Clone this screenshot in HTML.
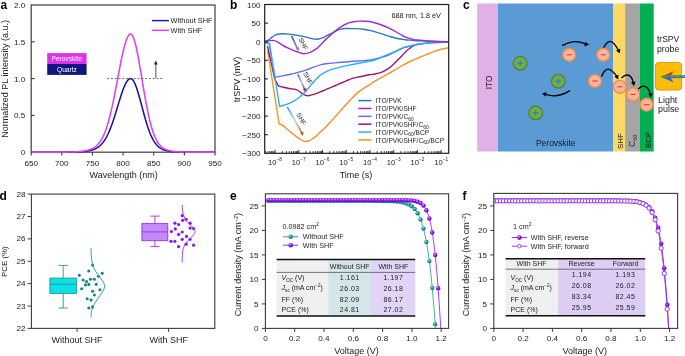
<!DOCTYPE html>
<html><head><meta charset="utf-8"><style>
html,body{margin:0;padding:0;background:#fff;}
svg{display:block;font-family:"Liberation Sans", sans-serif;will-change:transform;}
</style></head><body>
<svg width="685" height="356" viewBox="0 0 685 356">
<rect width="685" height="356" fill="#fff"/>
<rect x="31.2" y="5" width="183.8" height="147.2" fill="none" stroke="#4a4a4a" stroke-width="1.3"/>
<path d="M31.2 152.2 L31.81 152.2 L32.43 152.2 L33.04 152.2 L33.65 152.2 L34.26 152.2 L34.88 152.2 L35.49 152.2 L36.1 152.2 L36.71 152.2 L37.33 152.2 L37.94 152.2 L38.55 152.2 L39.16 152.2 L39.78 152.2 L40.39 152.2 L41 152.2 L41.62 152.2 L42.23 152.2 L42.84 152.2 L43.45 152.2 L44.07 152.2 L44.68 152.2 L45.29 152.2 L45.9 152.2 L46.52 152.2 L47.13 152.2 L47.74 152.2 L48.35 152.2 L48.97 152.2 L49.58 152.2 L50.19 152.2 L50.81 152.2 L51.42 152.2 L52.03 152.2 L52.64 152.2 L53.26 152.2 L53.87 152.19 L54.48 152.19 L55.09 152.19 L55.71 152.19 L56.32 152.19 L56.93 152.19 L57.54 152.19 L58.16 152.19 L58.77 152.19 L59.38 152.18 L60 152.18 L60.61 152.18 L61.22 152.18 L61.83 152.18 L62.45 152.17 L63.06 152.17 L63.67 152.17 L64.28 152.16 L64.9 152.16 L65.51 152.16 L66.12 152.15 L66.73 152.14 L67.35 152.14 L67.96 152.13 L68.57 152.13 L69.19 152.12 L69.8 152.11 L70.41 152.1 L71.02 152.09 L71.64 152.08 L72.25 152.07 L72.86 152.05 L73.47 152.04 L74.09 152.02 L74.7 152.01 L75.31 151.99 L75.92 151.97 L76.54 151.95 L77.15 151.92 L77.76 151.9 L78.38 151.87 L78.99 151.84 L79.6 151.81 L80.21 151.77 L80.83 151.73 L81.44 151.69 L82.05 151.65 L82.66 151.6 L83.28 151.55 L83.89 151.49 L84.5 151.43 L85.11 151.36 L85.73 151.29 L86.34 151.21 L86.95 151.12 L87.57 151.03 L88.18 150.92 L88.79 150.81 L89.4 150.69 L90.02 150.56 L90.63 150.42 L91.24 150.26 L91.85 150.09 L92.47 149.9 L93.08 149.7 L93.69 149.48 L94.3 149.24 L94.92 148.98 L95.53 148.69 L96.14 148.38 L96.76 148.04 L97.37 147.67 L97.98 147.27 L98.59 146.84 L99.21 146.36 L99.82 145.85 L100.43 145.3 L101.04 144.71 L101.66 144.06 L102.27 143.37 L102.88 142.63 L103.49 141.83 L104.11 140.97 L104.72 140.05 L105.33 139.08 L105.95 138.04 L106.56 136.93 L107.17 135.76 L107.78 134.53 L108.4 133.22 L109.01 131.85 L109.62 130.41 L110.23 128.9 L110.85 127.33 L111.46 125.69 L112.07 123.99 L112.68 122.24 L113.3 120.42 L113.91 118.56 L114.52 116.66 L115.14 114.72 L115.75 112.74 L116.36 110.74 L116.97 108.72 L117.59 106.69 L118.2 104.65 L118.81 102.63 L119.42 100.63 L120.04 98.65 L120.65 96.71 L121.26 94.81 L121.87 92.98 L122.49 91.21 L123.1 89.53 L123.71 87.93 L124.33 86.43 L124.94 85.04 L125.55 83.77 L126.16 82.62 L126.78 81.6 L127.39 80.73 L128 79.99 L128.61 79.41 L129.23 78.99 L129.84 78.71 L130.45 78.6 L131.06 78.67 L131.68 78.93 L132.29 79.41 L132.9 80.08 L133.52 80.95 L134.13 82 L134.74 83.23 L135.35 84.63 L135.97 86.18 L136.58 87.87 L137.19 89.7 L137.8 91.63 L138.42 93.67 L139.03 95.79 L139.64 97.98 L140.25 100.23 L140.87 102.51 L141.48 104.81 L142.09 107.13 L142.71 109.44 L143.32 111.73 L143.93 114 L144.54 116.23 L145.16 118.41 L145.77 120.53 L146.38 122.58 L146.99 124.57 L147.61 126.47 L148.22 128.3 L148.83 130.04 L149.44 131.7 L150.06 133.27 L150.67 134.75 L151.28 136.14 L151.9 137.45 L152.51 138.67 L153.12 139.81 L153.73 140.86 L154.35 141.85 L154.96 142.75 L155.57 143.59 L156.18 144.36 L156.8 145.06 L157.41 145.71 L158.02 146.3 L158.63 146.85 L159.25 147.34 L159.86 147.79 L160.47 148.2 L161.09 148.57 L161.7 148.9 L162.31 149.21 L162.92 149.49 L163.54 149.74 L164.15 149.97 L164.76 150.17 L165.37 150.36 L165.99 150.53 L166.6 150.68 L167.21 150.82 L167.82 150.95 L168.44 151.06 L169.05 151.17 L169.66 151.26 L170.28 151.35 L170.89 151.42 L171.5 151.49 L172.11 151.56 L172.73 151.62 L173.34 151.67 L173.95 151.72 L174.56 151.77 L175.18 151.81 L175.79 151.84 L176.4 151.88 L177.01 151.91 L177.63 151.94 L178.24 151.96 L178.85 151.99 L179.47 152.01 L180.08 152.03 L180.69 152.04 L181.3 152.06 L181.92 152.07 L182.53 152.09 L183.14 152.1 L183.75 152.11 L184.37 152.12 L184.98 152.13 L185.59 152.14 L186.2 152.14 L186.82 152.15 L187.43 152.15 L188.04 152.16 L188.66 152.16 L189.27 152.17 L189.88 152.17 L190.49 152.18 L191.11 152.18 L191.72 152.18 L192.33 152.18 L192.94 152.19 L193.56 152.19 L194.17 152.19 L194.78 152.19 L195.39 152.19 L196.01 152.19 L196.62 152.19 L197.23 152.19 L197.85 152.19 L198.46 152.2 L199.07 152.2 L199.68 152.2 L200.3 152.2 L200.91 152.2 L201.52 152.2 L202.13 152.2 L202.75 152.2 L203.36 152.2 L203.97 152.2 L204.58 152.2 L205.2 152.2 L205.81 152.2 L206.42 152.2 L207.04 152.2 L207.65 152.2 L208.26 152.2 L208.87 152.2 L209.49 152.2 L210.1 152.2 L210.71 152.2 L211.32 152.2 L211.94 152.2 L212.55 152.2 L213.16 152.2 L213.77 152.2 L214.39 152.2 L215 152.2" fill="none" stroke="#16168f" stroke-width="1.55"/>
<path d="M31.2 152.2 L31.81 152.2 L32.43 152.2 L33.04 152.2 L33.65 152.2 L34.26 152.2 L34.88 152.2 L35.49 152.2 L36.1 152.2 L36.71 152.2 L37.33 152.2 L37.94 152.2 L38.55 152.2 L39.16 152.2 L39.78 152.2 L40.39 152.2 L41 152.2 L41.62 152.2 L42.23 152.2 L42.84 152.2 L43.45 152.2 L44.07 152.2 L44.68 152.2 L45.29 152.2 L45.9 152.2 L46.52 152.2 L47.13 152.2 L47.74 152.2 L48.35 152.2 L48.97 152.2 L49.58 152.2 L50.19 152.2 L50.81 152.2 L51.42 152.19 L52.03 152.19 L52.64 152.19 L53.26 152.19 L53.87 152.19 L54.48 152.19 L55.09 152.19 L55.71 152.19 L56.32 152.19 L56.93 152.18 L57.54 152.18 L58.16 152.18 L58.77 152.18 L59.38 152.18 L60 152.17 L60.61 152.17 L61.22 152.17 L61.83 152.16 L62.45 152.16 L63.06 152.15 L63.67 152.15 L64.28 152.14 L64.9 152.14 L65.51 152.13 L66.12 152.12 L66.73 152.11 L67.35 152.1 L67.96 152.09 L68.57 152.08 L69.19 152.07 L69.8 152.05 L70.41 152.04 L71.02 152.02 L71.64 152.01 L72.25 151.99 L72.86 151.96 L73.47 151.94 L74.09 151.92 L74.7 151.89 L75.31 151.86 L75.92 151.83 L76.54 151.79 L77.15 151.76 L77.76 151.71 L78.38 151.67 L78.99 151.62 L79.6 151.57 L80.21 151.51 L80.83 151.45 L81.44 151.39 L82.05 151.31 L82.66 151.24 L83.28 151.15 L83.89 151.06 L84.5 150.96 L85.11 150.85 L85.73 150.73 L86.34 150.61 L86.95 150.47 L87.57 150.32 L88.18 150.15 L88.79 149.97 L89.4 149.78 L90.02 149.57 L90.63 149.34 L91.24 149.09 L91.85 148.81 L92.47 148.51 L93.08 148.19 L93.69 147.83 L94.3 147.45 L94.92 147.03 L95.53 146.57 L96.14 146.07 L96.76 145.52 L97.37 144.93 L97.98 144.29 L98.59 143.59 L99.21 142.83 L99.82 142.02 L100.43 141.13 L101.04 140.17 L101.66 139.14 L102.27 138.03 L102.88 136.83 L103.49 135.55 L104.11 134.18 L104.72 132.71 L105.33 131.14 L105.95 129.47 L106.56 127.7 L107.17 125.82 L107.78 123.83 L108.4 121.74 L109.01 119.53 L109.62 117.22 L110.23 114.8 L110.85 112.28 L111.46 109.65 L112.07 106.92 L112.68 104.11 L113.3 101.2 L113.91 98.22 L114.52 95.16 L115.14 92.04 L115.75 88.87 L116.36 85.65 L116.97 82.41 L117.59 79.15 L118.2 75.89 L118.81 72.64 L119.42 69.42 L120.04 66.25 L120.65 63.13 L121.26 60.09 L121.87 57.15 L122.49 54.32 L123.1 51.61 L123.71 49.05 L124.33 46.64 L124.94 44.41 L125.55 42.36 L126.16 40.52 L126.78 38.89 L127.39 37.48 L128 36.31 L128.61 35.38 L129.23 34.69 L129.84 34.26 L130.45 34.08 L131.06 34.18 L131.68 34.61 L132.29 35.37 L132.9 36.45 L133.52 37.84 L134.13 39.53 L134.74 41.5 L135.35 43.74 L135.97 46.24 L136.58 48.96 L137.19 51.88 L137.8 54.99 L138.42 58.26 L139.03 61.67 L139.64 65.18 L140.25 68.78 L140.87 72.44 L141.48 76.15 L142.09 79.86 L142.71 83.57 L143.32 87.25 L143.93 90.89 L144.54 94.46 L145.16 97.96 L145.77 101.36 L146.38 104.66 L146.99 107.85 L147.61 110.91 L148.22 113.84 L148.83 116.64 L149.44 119.3 L150.06 121.81 L150.67 124.19 L151.28 126.43 L151.9 128.52 L152.51 130.48 L153.12 132.31 L153.73 134.01 L154.35 135.58 L154.96 137.04 L155.57 138.38 L156.18 139.61 L156.8 140.75 L157.41 141.79 L158.02 142.74 L158.63 143.61 L159.25 144.4 L159.86 145.12 L160.47 145.77 L161.09 146.37 L161.7 146.91 L162.31 147.4 L162.92 147.85 L163.54 148.25 L164.15 148.61 L164.76 148.95 L165.37 149.25 L165.99 149.52 L166.6 149.76 L167.21 149.99 L167.82 150.19 L168.44 150.37 L169.05 150.54 L169.66 150.69 L170.28 150.83 L170.89 150.95 L171.5 151.07 L172.11 151.17 L172.73 151.27 L173.34 151.35 L173.95 151.43 L174.56 151.5 L175.18 151.57 L175.79 151.63 L176.4 151.68 L177.01 151.73 L177.63 151.78 L178.24 151.82 L178.85 151.86 L179.47 151.89 L180.08 151.92 L180.69 151.95 L181.3 151.97 L181.92 152 L182.53 152.02 L183.14 152.04 L183.75 152.05 L184.37 152.07 L184.98 152.08 L185.59 152.1 L186.2 152.11 L186.82 152.12 L187.43 152.13 L188.04 152.14 L188.66 152.14 L189.27 152.15 L189.88 152.15 L190.49 152.16 L191.11 152.16 L191.72 152.17 L192.33 152.17 L192.94 152.18 L193.56 152.18 L194.17 152.18 L194.78 152.18 L195.39 152.19 L196.01 152.19 L196.62 152.19 L197.23 152.19 L197.85 152.19 L198.46 152.19 L199.07 152.19 L199.68 152.19 L200.3 152.2 L200.91 152.2 L201.52 152.2 L202.13 152.2 L202.75 152.2 L203.36 152.2 L203.97 152.2 L204.58 152.2 L205.2 152.2 L205.81 152.2 L206.42 152.2 L207.04 152.2 L207.65 152.2 L208.26 152.2 L208.87 152.2 L209.49 152.2 L210.1 152.2 L210.71 152.2 L211.32 152.2 L211.94 152.2 L212.55 152.2 L213.16 152.2 L213.77 152.2 L214.39 152.2 L215 152.2" fill="none" stroke="#e23ef2" stroke-width="1.55"/>
<line x1="31.2" y1="152.2" x2="31.2" y2="155.6" stroke="#3a3a3a" stroke-width="1.1" />
<text x="31.2" y="165.6" font-size="8.1" text-anchor="middle" font-weight="normal" fill="#222" >650</text>
<line x1="61.83" y1="152.2" x2="61.83" y2="155.6" stroke="#3a3a3a" stroke-width="1.1" />
<text x="61.83" y="165.6" font-size="8.1" text-anchor="middle" font-weight="normal" fill="#222" >700</text>
<line x1="92.47" y1="152.2" x2="92.47" y2="155.6" stroke="#3a3a3a" stroke-width="1.1" />
<text x="92.47" y="165.6" font-size="8.1" text-anchor="middle" font-weight="normal" fill="#222" >750</text>
<line x1="123.1" y1="152.2" x2="123.1" y2="155.6" stroke="#3a3a3a" stroke-width="1.1" />
<text x="123.1" y="165.6" font-size="8.1" text-anchor="middle" font-weight="normal" fill="#222" >800</text>
<line x1="153.73" y1="152.2" x2="153.73" y2="155.6" stroke="#3a3a3a" stroke-width="1.1" />
<text x="153.73" y="165.6" font-size="8.1" text-anchor="middle" font-weight="normal" fill="#222" >850</text>
<line x1="184.37" y1="152.2" x2="184.37" y2="155.6" stroke="#3a3a3a" stroke-width="1.1" />
<text x="184.37" y="165.6" font-size="8.1" text-anchor="middle" font-weight="normal" fill="#222" >900</text>
<line x1="215" y1="152.2" x2="215" y2="155.6" stroke="#3a3a3a" stroke-width="1.1" />
<text x="215" y="165.6" font-size="8.1" text-anchor="middle" font-weight="normal" fill="#222" >950</text>
<text x="25.3" y="155.2" font-size="8.1" text-anchor="end" font-weight="normal" fill="#222" >0</text>
<line x1="31.2" y1="115.4" x2="34.6" y2="115.4" stroke="#3a3a3a" stroke-width="1.1" />
<text x="25.3" y="118.4" font-size="8.1" text-anchor="end" font-weight="normal" fill="#222" >0.5</text>
<line x1="31.2" y1="78.6" x2="34.6" y2="78.6" stroke="#3a3a3a" stroke-width="1.1" />
<text x="25.3" y="81.6" font-size="8.1" text-anchor="end" font-weight="normal" fill="#222" >1.0</text>
<line x1="31.2" y1="41.8" x2="34.6" y2="41.8" stroke="#3a3a3a" stroke-width="1.1" />
<text x="25.3" y="44.8" font-size="8.1" text-anchor="end" font-weight="normal" fill="#222" >1.5</text>
<text x="25.3" y="8" font-size="8.1" text-anchor="end" font-weight="normal" fill="#222" >2.0</text>
<text x="123.6" y="178.3" font-size="9.0" text-anchor="middle" font-weight="normal" fill="#222" >Wavelength (nm)</text>
<text x="0" y="0" font-size="9.0" text-anchor="middle" font-weight="normal" fill="#222" transform="translate(7.9 78.9) rotate(-90)">Normalized PL intensity (a.u.)</text>
<line x1="151.9" y1="20.6" x2="168.9" y2="20.6" stroke="#1c1c98" stroke-width="1.5" />
<text x="170.5" y="23.4" font-size="7.45" text-anchor="start" font-weight="normal" fill="#222" >Without SHF</text>
<line x1="151.9" y1="30.3" x2="168.9" y2="30.3" stroke="#e23ef2" stroke-width="1.5" />
<text x="170.5" y="33.2" font-size="7.45" text-anchor="start" font-weight="normal" fill="#222" >With SHF</text>
<rect x="47.2" y="53.1" width="39.4" height="10.9" fill="#dd33ee"/>
<rect x="47.2" y="64" width="39.4" height="10.9" fill="#141480"/>
<text x="66.9" y="61.3" font-size="6.6" text-anchor="middle" font-weight="normal" fill="#fff" >Perovskite</text>
<text x="66.9" y="72.2" font-size="6.6" text-anchor="middle" font-weight="normal" fill="#fff" >Quartz</text>
<line x1="107" y1="78.6" x2="163" y2="78.6" stroke="#555" stroke-width="0.8" stroke-dasharray="2.2 1.6"/>
<line x1="155.8" y1="78.2" x2="155.8" y2="64" stroke="#8a8a8a" stroke-width="1.5" />
<path d="M154 64.6 L155.8 60.6 L157.6 64.6 Z" fill="#222"/>
<text x="0.4" y="8.5" font-size="12" text-anchor="start" font-weight="bold" fill="#000" >a</text>
<defs><clipPath id="cb"><rect x="264.7" y="4.5" width="184.0" height="148.8"/></clipPath>
<linearGradient id="g1" x1="0" y1="0" x2="1" y2="1"><stop offset="0" stop-color="#2f5e9e"/><stop offset="1" stop-color="#9b7ae8"/></linearGradient>
<linearGradient id="g2" x1="0" y1="0" x2="0" y2="1"><stop offset="0" stop-color="#3a63c0"/><stop offset="0.55" stop-color="#b9c3e8"/><stop offset="1" stop-color="#c0283a"/></linearGradient>
<linearGradient id="g3" x1="0" y1="0" x2="0" y2="1"><stop offset="0" stop-color="#2aaaf0"/><stop offset="0.55" stop-color="#c4d4e4"/><stop offset="1" stop-color="#b8632a"/></linearGradient>
</defs>
<g clip-path="url(#cb)">
<path d="M267.7 51.2 C269.6 63.32 277.2 111.78 279.1 123.9 C279.63 124.1 280.85 124.12 282.3 125.1 C283.75 126.08 286.23 128.5 287.8 129.8 C289.37 131.1 290.38 131.85 291.7 132.9 C293.02 133.95 294.38 135.12 295.7 136.1 C297.02 137.08 298.3 137.97 299.6 138.8 C300.9 139.63 302.43 140.67 303.5 141.1 C304.57 141.53 305.08 141.45 306 141.4 C306.92 141.35 307.83 141.3 309 140.8 C310.17 140.3 311.83 139.18 313 138.4 C314.17 137.62 314.83 137.12 316 136.1 C317.17 135.08 318.48 133.7 320 132.3 C321.52 130.9 323.4 129.38 325.1 127.7 C326.8 126.02 328.52 124.05 330.2 122.2 C331.88 120.35 333.52 118.45 335.2 116.6 C336.88 114.75 338.78 112.78 340.3 111.1 C341.82 109.42 342.67 108.32 344.3 106.5 C345.93 104.68 348 102.38 350.1 100.2 C352.2 98.02 354.65 95.37 356.9 93.4 C359.15 91.43 361.47 89.85 363.6 88.4 C365.73 86.95 367.8 85.92 369.7 84.7 C371.6 83.48 372.62 82.53 375 81.1 C377.38 79.67 381 77.77 384 76.1 C387 74.43 390 72.83 393 71.1 C396 69.37 399.17 67.3 402 65.7 C404.83 64.1 407.35 62.78 410 61.5 C412.65 60.22 415.28 59.12 417.9 58 C420.52 56.88 423.08 55.85 425.7 54.8 C428.32 53.75 430.98 52.62 433.6 51.7 C436.22 50.78 438.88 49.95 441.4 49.3 C443.92 48.65 447.48 48.05 448.7 47.8" fill="none" stroke="#f59324" stroke-width="1.4" stroke-linejoin="round"/>
<path d="M267.4 46.1 C268.17 49.42 270.77 60.55 272 66 C273.23 71.45 273.68 75.45 274.8 78.8 C275.92 82.15 278.05 84.88 278.7 86.1 C279.45 86.28 281.5 86.8 283.2 87.2 C284.9 87.6 287.02 88.17 288.9 88.5 C290.78 88.83 293.1 88.95 294.5 89.2 C295.9 89.45 296.37 89.53 297.3 90 C298.23 90.47 299.23 91.35 300.1 92 C300.97 92.65 301.67 93.37 302.5 93.9 C303.33 94.43 304.25 94.9 305.1 95.2 C305.95 95.5 306.77 95.67 307.6 95.7 C308.43 95.73 308.83 95.7 310.1 95.4 C311.37 95.1 313.52 94.48 315.2 93.9 C316.88 93.32 318.52 92.58 320.2 91.9 C321.88 91.22 323.67 90.48 325.3 89.8 C326.93 89.12 328.28 88.52 330 87.8 C331.72 87.08 333.73 86.3 335.6 85.5 C337.47 84.7 339.32 83.82 341.2 83 C343.08 82.18 345.02 81.37 346.9 80.6 C348.78 79.83 350.63 78.98 352.5 78.4 C354.37 77.82 356.23 77.5 358.1 77.1 C359.97 76.7 361.83 76.38 363.7 76 C365.57 75.62 367.42 75.13 369.3 74.8 C371.18 74.47 373.3 74.32 375 74 C376.7 73.68 378 73.38 379.5 72.9 C381 72.42 382.5 71.85 384 71.1 C385.5 70.35 387 69.45 388.5 68.4 C390 67.35 391.5 66.15 393 64.8 C394.5 63.45 396 61.8 397.5 60.3 C399 58.8 400.5 57.37 402 55.8 C403.5 54.23 405.17 52.17 406.5 50.9 C407.83 49.63 408.83 49.05 410 48.2 C411.17 47.35 412.17 46.43 413.5 45.8 C414.83 45.17 415.97 44.82 418 44.4 C420.03 43.98 423.1 43.62 425.7 43.3 C428.3 42.98 429.77 42.73 433.6 42.5 C437.43 42.27 446.18 42 448.7 41.9" fill="none" stroke="#9e146e" stroke-width="1.4" stroke-linejoin="round"/>
<path d="M264.6 42.5 C265.33 42.65 268.27 43.25 269 43.4 C269.98 49.03 273.92 71.57 274.9 77.2 C276.2 76.98 280.1 76.38 282.7 75.9 C285.3 75.42 287.92 74.9 290.5 74.3 C293.08 73.7 295.63 73 298.2 72.3 C300.77 71.6 303.33 70.97 305.9 70.1 C308.47 69.23 311.02 68.02 313.6 67.1 C316.18 66.18 318.82 65.22 321.4 64.6 C323.98 63.98 326.53 63.73 329.1 63.4 C331.67 63.07 334.22 62.83 336.8 62.6 C339.38 62.37 341.98 62.22 344.6 62 C347.22 61.78 349.32 61.53 352.5 61.3 C355.68 61.07 360.45 60.88 363.7 60.6 C366.95 60.32 368.62 60.27 372 59.6 C375.38 58.93 380.5 57.72 384 56.6 C387.5 55.48 390.6 53.97 393 52.9 C395.4 51.83 396.57 51.08 398.4 50.2 C400.23 49.32 402.07 48.27 404 47.6 C405.93 46.93 407.68 46.75 410 46.2 C412.32 45.65 415.28 44.77 417.9 44.3 C420.52 43.83 423.08 43.68 425.7 43.4 C428.32 43.12 429.77 42.85 433.6 42.6 C437.43 42.35 446.18 42.02 448.7 41.9" fill="none" stroke="#6270f0" stroke-width="1.4" stroke-linejoin="round"/>
<path d="M264.6 42.7 C265.4 42.77 268.6 43.03 269.4 43.1 C271.1 53.65 277.9 95.85 279.6 106.4 C280.9 106.02 284.82 105.12 287.4 104.1 C289.98 103.08 293 101.53 295.1 100.3 C297.2 99.07 298.33 98.07 300 96.7 C301.67 95.33 303.42 93.88 305.1 92.1 C306.78 90.32 308.67 87.68 310.1 86 C311.53 84.32 312.38 83.45 313.7 82 C315.02 80.55 316.72 78.58 318 77.3 C319.28 76.02 319.55 75.47 321.4 74.3 C323.25 73.13 326.53 71.33 329.1 70.3 C331.67 69.27 334.22 68.8 336.8 68.1 C339.38 67.4 341.98 66.7 344.6 66.1 C347.22 65.5 349.32 65.15 352.5 64.5 C355.68 63.85 359.97 62.95 363.7 62.2 C367.43 61.45 371.52 61.02 374.9 60 C378.28 58.98 380.98 57.35 384 56.1 C387.02 54.85 390.6 53.55 393 52.5 C395.4 51.45 396.57 50.67 398.4 49.8 C400.23 48.93 402.07 47.93 404 47.3 C405.93 46.67 407.68 46.53 410 46 C412.32 45.47 415.28 44.57 417.9 44.1 C420.52 43.63 423.08 43.48 425.7 43.2 C428.32 42.92 429.77 42.62 433.6 42.4 C437.43 42.18 446.18 41.98 448.7 41.9" fill="none" stroke="#2cb1f0" stroke-width="1.4" stroke-linejoin="round"/>
<path d="M264.6 41.7 C265.28 41.38 267.45 40.57 268.7 39.8 C269.95 39.03 270.97 37.93 272.1 37.1 C273.23 36.27 274.37 35.3 275.5 34.8 C276.63 34.3 277.78 34.27 278.9 34.1 C280.02 33.93 280.52 33.8 282.2 33.8 C283.88 33.8 286.75 33.88 289 34.1 C291.25 34.32 293.53 34.77 295.7 35.1 C297.87 35.43 299.95 35.68 302 36.1 C304.05 36.52 306.17 37.13 308 37.6 C309.83 38.07 311.5 38.63 313 38.9 C314.5 39.17 315.83 39.23 317 39.2 C318.17 39.17 318.8 39.05 320 38.7 C321.2 38.35 322.8 37.73 324.2 37.1 C325.6 36.47 327 35.62 328.4 34.9 C329.8 34.18 331.2 33.53 332.6 32.8 C334 32.07 335.4 31.12 336.8 30.5 C338.2 29.88 339.58 29.43 341 29.1 C342.42 28.77 343.18 28.58 345.3 28.5 C347.42 28.42 350.68 28.48 353.7 28.6 C356.72 28.72 360.37 28.82 363.4 29.2 C366.43 29.58 369.08 30.2 371.9 30.9 C374.72 31.6 377.5 32.53 380.3 33.4 C383.1 34.27 385.88 35.25 388.7 36.1 C391.52 36.95 394.48 37.9 397.2 38.5 C399.92 39.1 402.53 39.4 405 39.7 C407.47 40 409.5 40.1 412 40.3 C414.5 40.5 416.4 40.7 420 40.9 C423.6 41.1 428.82 41.33 433.6 41.5 C438.38 41.67 446.18 41.83 448.7 41.9" fill="none" stroke="#2a78b4" stroke-width="1.4" stroke-linejoin="round"/>
<path d="M264.6 41.7 C265.28 41.53 267 40.88 268.7 40.7 C270.4 40.52 272.92 40.12 274.8 40.6 C276.68 41.08 278.13 42.52 280 43.6 C281.87 44.68 283.97 46.05 286 47.1 C288.03 48.15 290.13 49.05 292.2 49.9 C294.27 50.75 296.65 51.58 298.4 52.2 C300.15 52.82 301.37 53.4 302.7 53.6 C304.03 53.8 305.07 53.65 306.4 53.4 C307.73 53.15 308.95 52.93 310.7 52.1 C312.45 51.27 315.27 49.58 316.9 48.4 C318.53 47.22 319.28 46.25 320.5 45 C321.72 43.75 322.88 42.22 324.2 40.9 C325.52 39.58 327 38.37 328.4 37.1 C329.8 35.83 331.2 34.5 332.6 33.3 C334 32.1 335.4 30.97 336.8 29.9 C338.2 28.83 339.58 27.82 341 26.9 C342.42 25.98 343.88 25.1 345.3 24.4 C346.72 23.7 348.1 23.15 349.5 22.7 C350.9 22.25 351.95 21.97 353.7 21.7 C355.45 21.43 358.38 21.18 360 21.1 C361.62 21.02 361.42 21.05 363.4 21.2 C365.38 21.35 369.08 21.45 371.9 22 C374.72 22.55 377.5 23.52 380.3 24.5 C383.1 25.48 385.88 26.57 388.7 27.9 C391.52 29.23 394.98 31.27 397.2 32.5 C399.42 33.73 400.7 34.58 402 35.3 C403.3 36.02 403.85 36.32 405 36.8 C406.15 37.28 407.4 37.73 408.9 38.2 C410.4 38.67 412.15 39.27 414 39.6 C415.85 39.93 416.73 39.92 420 40.2 C423.27 40.48 428.82 41.02 433.6 41.3 C438.38 41.58 446.18 41.8 448.7 41.9" fill="none" stroke="#a526d6" stroke-width="1.4" stroke-linejoin="round"/>
</g>
<rect x="264.7" y="4.5" width="184" height="148.8" fill="none" stroke="#1e1e1e" stroke-width="1.2"/>
<line x1="265.65" y1="153.3" x2="265.65" y2="151.1" stroke="#222" stroke-width="0.9" />
<line x1="267.95" y1="153.3" x2="267.95" y2="151.1" stroke="#222" stroke-width="0.9" />
<line x1="269.83" y1="153.3" x2="269.83" y2="151.1" stroke="#222" stroke-width="0.9" />
<line x1="271.41" y1="153.3" x2="271.41" y2="151.1" stroke="#222" stroke-width="0.9" />
<line x1="272.79" y1="153.3" x2="272.79" y2="151.1" stroke="#222" stroke-width="0.9" />
<line x1="274" y1="153.3" x2="274" y2="151.1" stroke="#222" stroke-width="0.9" />
<line x1="275.09" y1="153.3" x2="275.09" y2="149.9" stroke="#222" stroke-width="0.9" />
<line x1="282.23" y1="153.3" x2="282.23" y2="151.1" stroke="#222" stroke-width="0.9" />
<line x1="286.41" y1="153.3" x2="286.41" y2="151.1" stroke="#222" stroke-width="0.9" />
<line x1="289.38" y1="153.3" x2="289.38" y2="151.1" stroke="#222" stroke-width="0.9" />
<line x1="291.68" y1="153.3" x2="291.68" y2="151.1" stroke="#222" stroke-width="0.9" />
<line x1="293.56" y1="153.3" x2="293.56" y2="151.1" stroke="#222" stroke-width="0.9" />
<line x1="295.14" y1="153.3" x2="295.14" y2="151.1" stroke="#222" stroke-width="0.9" />
<line x1="296.52" y1="153.3" x2="296.52" y2="151.1" stroke="#222" stroke-width="0.9" />
<line x1="297.73" y1="153.3" x2="297.73" y2="151.1" stroke="#222" stroke-width="0.9" />
<line x1="298.82" y1="153.3" x2="298.82" y2="149.9" stroke="#222" stroke-width="0.9" />
<line x1="305.96" y1="153.3" x2="305.96" y2="151.1" stroke="#222" stroke-width="0.9" />
<line x1="310.14" y1="153.3" x2="310.14" y2="151.1" stroke="#222" stroke-width="0.9" />
<line x1="313.11" y1="153.3" x2="313.11" y2="151.1" stroke="#222" stroke-width="0.9" />
<line x1="315.41" y1="153.3" x2="315.41" y2="151.1" stroke="#222" stroke-width="0.9" />
<line x1="317.29" y1="153.3" x2="317.29" y2="151.1" stroke="#222" stroke-width="0.9" />
<line x1="318.87" y1="153.3" x2="318.87" y2="151.1" stroke="#222" stroke-width="0.9" />
<line x1="320.25" y1="153.3" x2="320.25" y2="151.1" stroke="#222" stroke-width="0.9" />
<line x1="321.46" y1="153.3" x2="321.46" y2="151.1" stroke="#222" stroke-width="0.9" />
<line x1="322.55" y1="153.3" x2="322.55" y2="149.9" stroke="#222" stroke-width="0.9" />
<line x1="329.69" y1="153.3" x2="329.69" y2="151.1" stroke="#222" stroke-width="0.9" />
<line x1="333.87" y1="153.3" x2="333.87" y2="151.1" stroke="#222" stroke-width="0.9" />
<line x1="336.84" y1="153.3" x2="336.84" y2="151.1" stroke="#222" stroke-width="0.9" />
<line x1="339.14" y1="153.3" x2="339.14" y2="151.1" stroke="#222" stroke-width="0.9" />
<line x1="341.02" y1="153.3" x2="341.02" y2="151.1" stroke="#222" stroke-width="0.9" />
<line x1="342.6" y1="153.3" x2="342.6" y2="151.1" stroke="#222" stroke-width="0.9" />
<line x1="343.98" y1="153.3" x2="343.98" y2="151.1" stroke="#222" stroke-width="0.9" />
<line x1="345.19" y1="153.3" x2="345.19" y2="151.1" stroke="#222" stroke-width="0.9" />
<line x1="346.28" y1="153.3" x2="346.28" y2="149.9" stroke="#222" stroke-width="0.9" />
<line x1="353.42" y1="153.3" x2="353.42" y2="151.1" stroke="#222" stroke-width="0.9" />
<line x1="357.6" y1="153.3" x2="357.6" y2="151.1" stroke="#222" stroke-width="0.9" />
<line x1="360.57" y1="153.3" x2="360.57" y2="151.1" stroke="#222" stroke-width="0.9" />
<line x1="362.87" y1="153.3" x2="362.87" y2="151.1" stroke="#222" stroke-width="0.9" />
<line x1="364.75" y1="153.3" x2="364.75" y2="151.1" stroke="#222" stroke-width="0.9" />
<line x1="366.33" y1="153.3" x2="366.33" y2="151.1" stroke="#222" stroke-width="0.9" />
<line x1="367.71" y1="153.3" x2="367.71" y2="151.1" stroke="#222" stroke-width="0.9" />
<line x1="368.92" y1="153.3" x2="368.92" y2="151.1" stroke="#222" stroke-width="0.9" />
<line x1="370.01" y1="153.3" x2="370.01" y2="149.9" stroke="#222" stroke-width="0.9" />
<line x1="377.15" y1="153.3" x2="377.15" y2="151.1" stroke="#222" stroke-width="0.9" />
<line x1="381.33" y1="153.3" x2="381.33" y2="151.1" stroke="#222" stroke-width="0.9" />
<line x1="384.3" y1="153.3" x2="384.3" y2="151.1" stroke="#222" stroke-width="0.9" />
<line x1="386.6" y1="153.3" x2="386.6" y2="151.1" stroke="#222" stroke-width="0.9" />
<line x1="388.48" y1="153.3" x2="388.48" y2="151.1" stroke="#222" stroke-width="0.9" />
<line x1="390.06" y1="153.3" x2="390.06" y2="151.1" stroke="#222" stroke-width="0.9" />
<line x1="391.44" y1="153.3" x2="391.44" y2="151.1" stroke="#222" stroke-width="0.9" />
<line x1="392.65" y1="153.3" x2="392.65" y2="151.1" stroke="#222" stroke-width="0.9" />
<line x1="393.74" y1="153.3" x2="393.74" y2="149.9" stroke="#222" stroke-width="0.9" />
<line x1="400.88" y1="153.3" x2="400.88" y2="151.1" stroke="#222" stroke-width="0.9" />
<line x1="405.06" y1="153.3" x2="405.06" y2="151.1" stroke="#222" stroke-width="0.9" />
<line x1="408.03" y1="153.3" x2="408.03" y2="151.1" stroke="#222" stroke-width="0.9" />
<line x1="410.33" y1="153.3" x2="410.33" y2="151.1" stroke="#222" stroke-width="0.9" />
<line x1="412.21" y1="153.3" x2="412.21" y2="151.1" stroke="#222" stroke-width="0.9" />
<line x1="413.79" y1="153.3" x2="413.79" y2="151.1" stroke="#222" stroke-width="0.9" />
<line x1="415.17" y1="153.3" x2="415.17" y2="151.1" stroke="#222" stroke-width="0.9" />
<line x1="416.38" y1="153.3" x2="416.38" y2="151.1" stroke="#222" stroke-width="0.9" />
<line x1="417.47" y1="153.3" x2="417.47" y2="149.9" stroke="#222" stroke-width="0.9" />
<line x1="424.61" y1="153.3" x2="424.61" y2="151.1" stroke="#222" stroke-width="0.9" />
<line x1="428.79" y1="153.3" x2="428.79" y2="151.1" stroke="#222" stroke-width="0.9" />
<line x1="431.76" y1="153.3" x2="431.76" y2="151.1" stroke="#222" stroke-width="0.9" />
<line x1="434.06" y1="153.3" x2="434.06" y2="151.1" stroke="#222" stroke-width="0.9" />
<line x1="435.94" y1="153.3" x2="435.94" y2="151.1" stroke="#222" stroke-width="0.9" />
<line x1="437.52" y1="153.3" x2="437.52" y2="151.1" stroke="#222" stroke-width="0.9" />
<line x1="438.9" y1="153.3" x2="438.9" y2="151.1" stroke="#222" stroke-width="0.9" />
<line x1="440.11" y1="153.3" x2="440.11" y2="151.1" stroke="#222" stroke-width="0.9" />
<line x1="441.2" y1="153.3" x2="441.2" y2="149.9" stroke="#222" stroke-width="0.9" />
<text x="275.09" y="164.6" font-size="7.6" text-anchor="middle" fill="#222">10<tspan dy="-3.8" font-size="4.8">&#8722;8</tspan></text>
<text x="298.82" y="164.6" font-size="7.6" text-anchor="middle" fill="#222">10<tspan dy="-3.8" font-size="4.8">&#8722;7</tspan></text>
<text x="322.55" y="164.6" font-size="7.6" text-anchor="middle" fill="#222">10<tspan dy="-3.8" font-size="4.8">&#8722;6</tspan></text>
<text x="346.28" y="164.6" font-size="7.6" text-anchor="middle" fill="#222">10<tspan dy="-3.8" font-size="4.8">&#8722;5</tspan></text>
<text x="370.01" y="164.6" font-size="7.6" text-anchor="middle" fill="#222">10<tspan dy="-3.8" font-size="4.8">&#8722;4</tspan></text>
<text x="393.74" y="164.6" font-size="7.6" text-anchor="middle" fill="#222">10<tspan dy="-3.8" font-size="4.8">&#8722;3</tspan></text>
<text x="417.47" y="164.6" font-size="7.6" text-anchor="middle" fill="#222">10<tspan dy="-3.8" font-size="4.8">&#8722;2</tspan></text>
<text x="441.2" y="164.6" font-size="7.6" text-anchor="middle" fill="#222">10<tspan dy="-3.8" font-size="4.8">&#8722;1</tspan></text>
<text x="260.6" y="7.5" font-size="8.1" text-anchor="end" font-weight="normal" fill="#222" >100</text>
<line x1="264.7" y1="23.1" x2="267.9" y2="23.1" stroke="#1e1e1e" stroke-width="1.1" />
<text x="260.6" y="26.1" font-size="8.1" text-anchor="end" font-weight="normal" fill="#222" >50</text>
<line x1="264.7" y1="41.7" x2="267.9" y2="41.7" stroke="#1e1e1e" stroke-width="1.1" />
<text x="260.6" y="44.7" font-size="8.1" text-anchor="end" font-weight="normal" fill="#222" >0</text>
<line x1="264.7" y1="60.3" x2="267.9" y2="60.3" stroke="#1e1e1e" stroke-width="1.1" />
<text x="260.6" y="63.3" font-size="8.1" text-anchor="end" font-weight="normal" fill="#222" >&#8722;50</text>
<line x1="264.7" y1="78.9" x2="267.9" y2="78.9" stroke="#1e1e1e" stroke-width="1.1" />
<text x="260.6" y="81.9" font-size="8.1" text-anchor="end" font-weight="normal" fill="#222" >&#8722;100</text>
<line x1="264.7" y1="97.5" x2="267.9" y2="97.5" stroke="#1e1e1e" stroke-width="1.1" />
<text x="260.6" y="100.5" font-size="8.1" text-anchor="end" font-weight="normal" fill="#222" >&#8722;150</text>
<line x1="264.7" y1="116.1" x2="267.9" y2="116.1" stroke="#1e1e1e" stroke-width="1.1" />
<text x="260.6" y="119.1" font-size="8.1" text-anchor="end" font-weight="normal" fill="#222" >&#8722;200</text>
<line x1="264.7" y1="134.7" x2="267.9" y2="134.7" stroke="#1e1e1e" stroke-width="1.1" />
<text x="260.6" y="137.7" font-size="8.1" text-anchor="end" font-weight="normal" fill="#222" >&#8722;250</text>
<text x="260.6" y="156.3" font-size="8.1" text-anchor="end" font-weight="normal" fill="#222" >&#8722;300</text>
<text x="356" y="177.6" font-size="9.0" text-anchor="middle" font-weight="normal" fill="#222" >Time (s)</text>
<text x="0" y="0" font-size="9.0" text-anchor="middle" font-weight="normal" fill="#222" transform="translate(239.6 79.5) rotate(-90)">trSPV (mV)</text>
<text x="441" y="18.2" font-size="7.3" text-anchor="end" font-weight="normal" fill="#222" >688 nm, 1.8 eV</text>
<line x1="358.3" y1="100.6" x2="371.4" y2="100.6" stroke="#2a78b4" stroke-width="1.5" />
<text x="375.7" y="103.2" font-size="6.6" text-anchor="start" font-weight="normal" fill="#222" >ITO/PVK</text>
<line x1="358.3" y1="108.46" x2="371.4" y2="108.46" stroke="#a526d6" stroke-width="1.5" />
<text x="375.7" y="111.06" font-size="6.6" text-anchor="start" font-weight="normal" fill="#222" >ITO/PVK/SHF</text>
<line x1="358.3" y1="116.32" x2="371.4" y2="116.32" stroke="#6270f0" stroke-width="1.5" />
<text x="375.7" y="118.92" font-size="6.6" text-anchor="start" font-weight="normal" fill="#222" >ITO/PVK/C<tspan font-size="5" dy="1.8">60</tspan></text>
<line x1="358.3" y1="124.18" x2="371.4" y2="124.18" stroke="#9e146e" stroke-width="1.5" />
<text x="375.7" y="126.78" font-size="6.6" text-anchor="start" font-weight="normal" fill="#222" >ITO/PVK/SHF/C<tspan font-size="5" dy="1.8">60</tspan></text>
<line x1="358.3" y1="132.04" x2="371.4" y2="132.04" stroke="#2cb1f0" stroke-width="1.5" />
<text x="375.7" y="134.64" font-size="6.6" text-anchor="start" font-weight="normal" fill="#222" >ITO/PVK/C<tspan font-size="5" dy="1.8">60</tspan><tspan dy="-1.8">/BCP</tspan></text>
<line x1="358.3" y1="139.9" x2="371.4" y2="139.9" stroke="#f59324" stroke-width="1.5" />
<text x="375.7" y="142.5" font-size="6.6" text-anchor="start" font-weight="normal" fill="#222" >ITO/PVK/SHF/C<tspan font-size="5" dy="1.8">60</tspan><tspan dy="-1.8">/BCP</tspan></text>
<path d="M291.6 36 L297.6 49.2" stroke="url(#g1)" stroke-width="1.6" fill="none"/>
<path d="M295.8 48.2 L298.6 51.2 L299.3 47" fill="#8a72e0"/>
<path d="M297.9 74.3 L304.8 89.5" stroke="url(#g2)" stroke-width="1.6" fill="none"/>
<path d="M302.8 89.2 L305.6 92.3 L306.5 88" fill="#c0283a"/>
<path d="M287.3 107 L302 133.2" stroke="url(#g3)" stroke-width="1.6" fill="none"/>
<path d="M300 133 L302.8 136 L303.8 131.7" fill="#b8632a"/>
<text x="0" y="0" font-size="6.5" text-anchor="middle" font-weight="normal" fill="#222" transform="translate(301.2 44.8) rotate(64)">SHF</text>
<text x="0" y="0" font-size="6.5" text-anchor="middle" font-weight="normal" fill="#222" transform="translate(305.9 79) rotate(64)">SHF</text>
<text x="0" y="0" font-size="6.5" text-anchor="middle" font-weight="normal" fill="#222" transform="translate(299.3 120) rotate(60)">SHF</text>
<text x="229.9" y="8.9" font-size="12" text-anchor="start" font-weight="bold" fill="#000" >b</text>
<rect x="477.2" y="3.5" width="20.8" height="148" fill="#e0b0e6"/>
<rect x="498" y="3.5" width="115" height="148" fill="#5b9bd5"/>
<rect x="613" y="3.5" width="12.1" height="148" fill="#ffd966"/>
<rect x="625.1" y="3.5" width="14.9" height="148" fill="#a5a5a5"/>
<rect x="640" y="3.5" width="13.7" height="148" fill="#00b050"/>
<text x="462.9" y="8.9" font-size="12" text-anchor="start" font-weight="bold" fill="#000" >c</text>
<text x="0" y="0" font-size="8.4" text-anchor="middle" font-weight="normal" fill="#1a1a1a" transform="translate(492.3 82.3) rotate(-90)">ITO</text>
<text x="575.6" y="146" font-size="8.5" text-anchor="end" font-weight="normal" fill="#141a28" >Perovskite</text>
<text x="0" y="0" font-size="8.0" text-anchor="middle" font-weight="normal" fill="#1a1a1a" transform="translate(622.5 141) rotate(-90)">SHF</text>
<text transform="translate(635.2 140.7) rotate(-90)" font-size="8.2" text-anchor="middle" fill="#222">C<tspan font-size="5.8" dy="2.0">60</tspan></text>
<text x="0" y="0" font-size="7.9" text-anchor="middle" font-weight="normal" fill="#111" transform="translate(651 140) rotate(-90)">BCP</text>
<text x="657" y="42" font-size="8.5" text-anchor="start" font-weight="normal" fill="#222" >trSPV</text>
<text x="657" y="51.5" font-size="8.7" text-anchor="start" font-weight="normal" fill="#222" >probe</text>
<text x="658.1" y="103.1" font-size="8.9" text-anchor="start" font-weight="normal" fill="#222" >Light</text>
<text x="658.1" y="112.2" font-size="8.9" text-anchor="start" font-weight="normal" fill="#222" >pulse</text>
<rect x="655.5" y="62.5" width="26.2" height="27.6" rx="3.2" fill="#fbbd08" stroke="#c89400" stroke-width="0.8"/>
<path d="M660.6 76.7 L673.6 71.3 L670 76.7 Z" fill="#e3262a"/>
<path d="M660.6 76.7 L673.6 82.4 L670 76.7 Z" fill="#2f5fd6"/>
<path d="M663 76 L685 76" stroke="#2f9a5a" stroke-width="1.6"/>
<path d="M663 77.5 L685 77.5" stroke="#2f70c8" stroke-width="1.2"/>
<path d="M660.6 76.7 L667 75 L667 78.4 Z" fill="#2f9a5a"/>
<defs><radialGradient id="eg" cx="0.5" cy="0.5" r="0.5"><stop offset="0" stop-color="#fbc3aa"/><stop offset="0.7" stop-color="#f8b295"/><stop offset="1" stop-color="#f5a585"/></radialGradient></defs>
<circle cx="520.2" cy="63.2" r="6.85" fill="#70ad47" stroke="#4f7f30" stroke-width="1.2"/>
<path d="M517.4000000000001 63.2 h5.6 M520.2 60.400000000000006 v5.6" stroke="#1f7fcf" stroke-width="1.1"/>
<circle cx="558.3" cy="81.3" r="6.85" fill="#70ad47" stroke="#4f7f30" stroke-width="1.2"/>
<path d="M555.5 81.3 h5.6 M558.3 78.5 v5.6" stroke="#1f7fcf" stroke-width="1.1"/>
<circle cx="535.7" cy="112.9" r="6.85" fill="#70ad47" stroke="#4f7f30" stroke-width="1.2"/>
<path d="M532.9000000000001 112.9 h5.6 M535.7 110.10000000000001 v5.6" stroke="#1f7fcf" stroke-width="1.1"/>
<circle cx="569.2" cy="54.8" r="6.6" fill="url(#eg)" stroke="#f08a3e" stroke-width="1.1"/>
<path d="M566.6 54.8 h5.2" stroke="#ff2626" stroke-width="1.1"/>
<circle cx="603.3" cy="54.8" r="6.6" fill="url(#eg)" stroke="#f08a3e" stroke-width="1.1"/>
<path d="M600.6999999999999 54.8 h5.2" stroke="#ff2626" stroke-width="1.1"/>
<circle cx="594.9" cy="81" r="6.6" fill="url(#eg)" stroke="#f08a3e" stroke-width="1.1"/>
<path d="M592.3 81 h5.2" stroke="#ff2626" stroke-width="1.1"/>
<circle cx="619.7" cy="86.8" r="6.6" fill="url(#eg)" stroke="#f08a3e" stroke-width="1.1"/>
<path d="M617.1 86.8 h5.2" stroke="#ff2626" stroke-width="1.1"/>
<circle cx="633.1" cy="94.4" r="6.6" fill="url(#eg)" stroke="#f08a3e" stroke-width="1.1"/>
<path d="M630.5 94.4 h5.2" stroke="#ff2626" stroke-width="1.1"/>
<circle cx="646.6" cy="104.7" r="6.6" fill="url(#eg)" stroke="#f08a3e" stroke-width="1.1"/>
<path d="M644.0 104.7 h5.2" stroke="#ff2626" stroke-width="1.1"/>
<path d="M562.3 45.7 Q575 38.3 586 44.2" fill="none" stroke="#000" stroke-width="1.35"/>
<path d="M589 44.8 L584.32 46.16 L585.27 41.66 Z" fill="#000"/>
<path d="M603.6 47.6 Q609 37.6 614 43.6 Q616.8 47.2 618.4 50" fill="none" stroke="#000" stroke-width="1.35"/>
<path d="M619.8 53.6 L616.06 50.47 L620.32 48.75 Z" fill="#000"/>
<path d="M601.5 76.7 Q606 65.5 612 71 Q615.5 74 617 76.5" fill="none" stroke="#000" stroke-width="1.35"/>
<path d="M618.2 79.6 L614.3 76.67 L618.47 74.73 Z" fill="#000"/>
<path d="M621.5 78 Q627 72.5 631 77 Q632.6 79 633.3 83" fill="none" stroke="#000" stroke-width="1.35"/>
<path d="M634 86.2 L630.99 82.36 L635.52 81.57 Z" fill="#000"/>
<path d="M638.2 89 Q644 83.6 647.8 88.4 Q649.8 91.4 650.4 94.2" fill="none" stroke="#000" stroke-width="1.35"/>
<path d="M650.9 97.8 L648.16 93.76 L652.74 93.28 Z" fill="#000"/>
<path d="M570 90.6 Q557 98.6 545.8 94.4" fill="none" stroke="#000" stroke-width="1.35"/>
<path d="M541.8 93.6 L546.43 92.08 L545.64 96.61 Z" fill="#000"/>
<rect x="31.4" y="194.1" width="183.4" height="134.3" fill="none" stroke="#3a3a3a" stroke-width="1.1"/>
<line x1="27.6" y1="328.4" x2="31.4" y2="328.4" stroke="#3a3a3a" stroke-width="1" />
<text x="25.5" y="330.9" font-size="8.1" text-anchor="end" font-weight="normal" fill="#222" >22</text>
<line x1="27.6" y1="306.02" x2="31.4" y2="306.02" stroke="#3a3a3a" stroke-width="1" />
<text x="25.5" y="308.52" font-size="8.1" text-anchor="end" font-weight="normal" fill="#222" >23</text>
<line x1="27.6" y1="283.63" x2="31.4" y2="283.63" stroke="#3a3a3a" stroke-width="1" />
<text x="25.5" y="286.13" font-size="8.1" text-anchor="end" font-weight="normal" fill="#222" >24</text>
<line x1="27.6" y1="261.25" x2="31.4" y2="261.25" stroke="#3a3a3a" stroke-width="1" />
<text x="25.5" y="263.75" font-size="8.1" text-anchor="end" font-weight="normal" fill="#222" >25</text>
<line x1="27.6" y1="238.87" x2="31.4" y2="238.87" stroke="#3a3a3a" stroke-width="1" />
<text x="25.5" y="241.37" font-size="8.1" text-anchor="end" font-weight="normal" fill="#222" >26</text>
<line x1="27.6" y1="216.48" x2="31.4" y2="216.48" stroke="#3a3a3a" stroke-width="1" />
<text x="25.5" y="218.98" font-size="8.1" text-anchor="end" font-weight="normal" fill="#222" >27</text>
<line x1="27.6" y1="194.1" x2="31.4" y2="194.1" stroke="#3a3a3a" stroke-width="1" />
<text x="25.5" y="196.6" font-size="8.1" text-anchor="end" font-weight="normal" fill="#222" >28</text>
<line x1="77.1" y1="328.4" x2="77.1" y2="331.8" stroke="#3a3a3a" stroke-width="1" />
<line x1="168.6" y1="328.4" x2="168.6" y2="331.8" stroke="#3a3a3a" stroke-width="1" />
<text x="77.1" y="342.8" font-size="9.0" text-anchor="middle" font-weight="normal" fill="#222" >Without SHF</text>
<text x="168.8" y="342.8" font-size="9.0" text-anchor="middle" font-weight="normal" fill="#222" >With SHF</text>
<text x="0" y="0" font-size="7.9" text-anchor="middle" font-weight="normal" fill="#222" transform="translate(7.3 261.6) rotate(-90)">PCE (%)</text>
<text x="-0.6" y="199.6" font-size="12" text-anchor="start" font-weight="bold" fill="#000" >d</text>
<line x1="63.2" y1="265.4" x2="63.2" y2="308" stroke="#1a9aa0" stroke-width="0.9"/>
<line x1="58.5" y1="265.4" x2="67.9" y2="265.4" stroke="#1a9aa0" stroke-width="0.9"/>
<line x1="58.5" y1="308" x2="67.9" y2="308" stroke="#1a9aa0" stroke-width="0.9"/>
<rect x="49.9" y="278.1" width="26.5" height="15.3" fill="#0fe0e6" stroke="#1a9aa0" stroke-width="0.9"/>
<line x1="49.9" y1="284.2" x2="76.4" y2="284.2" stroke="#1a9aa0" stroke-width="0.9"/>
<circle cx="79.3" cy="275.2" r="1.55" fill="#0f8489"/>
<circle cx="88.8" cy="271" r="1.55" fill="#0f8489"/>
<circle cx="92.6" cy="265.1" r="1.55" fill="#0f8489"/>
<circle cx="102.2" cy="273.2" r="1.55" fill="#0f8489"/>
<circle cx="83.1" cy="280" r="1.55" fill="#0f8489"/>
<circle cx="86.5" cy="281.5" r="1.55" fill="#0f8489"/>
<circle cx="90.5" cy="279.3" r="1.55" fill="#0f8489"/>
<circle cx="94.4" cy="279.3" r="1.55" fill="#0f8489"/>
<circle cx="98.4" cy="276.3" r="1.55" fill="#0f8489"/>
<circle cx="85.4" cy="284.9" r="1.55" fill="#0f8489"/>
<circle cx="88.8" cy="284.4" r="1.55" fill="#0f8489"/>
<circle cx="96.2" cy="284.2" r="1.55" fill="#0f8489"/>
<circle cx="81.6" cy="288.7" r="1.55" fill="#0f8489"/>
<circle cx="92.6" cy="291.2" r="1.55" fill="#0f8489"/>
<circle cx="100" cy="289.8" r="1.55" fill="#0f8489"/>
<circle cx="94.4" cy="295" r="1.55" fill="#0f8489"/>
<circle cx="87.2" cy="298.8" r="1.55" fill="#0f8489"/>
<circle cx="91" cy="300.1" r="1.55" fill="#0f8489"/>
<circle cx="88.8" cy="308" r="1.55" fill="#0f8489"/>
<circle cx="92.6" cy="306.9" r="1.55" fill="#0f8489"/>
<path d="M91 247.8 C91.05 249.17 91.05 253.3 91.3 256 C91.55 258.7 91.8 261.5 92.5 264 C93.2 266.5 94.25 268.75 95.5 271 C96.75 273.25 98.65 275.58 100 277.5 C101.35 279.42 102.85 281.08 103.6 282.5 C104.35 283.92 104.5 284.75 104.5 286 C104.5 287.25 104.35 288.42 103.6 290 C102.85 291.58 101.35 293.5 100 295.5 C98.65 297.5 96.75 299.92 95.5 302 C94.25 304.08 93.2 306.17 92.5 308 C91.8 309.83 91.55 311.42 91.3 313 C91.05 314.58 91.05 316.75 91 317.5" fill="none" stroke="#1a9aa0" stroke-width="0.9"/>
<line x1="154.9" y1="216.1" x2="154.9" y2="246.6" stroke="#9b2ff0" stroke-width="0.9"/>
<line x1="150.3" y1="216.1" x2="159.6" y2="216.1" stroke="#9b2ff0" stroke-width="0.9"/>
<line x1="150.3" y1="246.6" x2="159.6" y2="246.6" stroke="#9b2ff0" stroke-width="0.9"/>
<rect x="141.9" y="223.6" width="25.9" height="17.1" fill="#c58af5" stroke="#9b2ff0" stroke-width="0.9"/>
<line x1="141.9" y1="231.9" x2="167.8" y2="231.9" stroke="#9b2ff0" stroke-width="0.9"/>
<circle cx="182.2" cy="215.7" r="1.6" fill="#8a18ee"/>
<circle cx="182.6" cy="220.3" r="1.6" fill="#8a18ee"/>
<circle cx="186.1" cy="219.3" r="1.6" fill="#8a18ee"/>
<circle cx="174.9" cy="223.2" r="1.6" fill="#8a18ee"/>
<circle cx="178.6" cy="224.6" r="1.6" fill="#8a18ee"/>
<circle cx="190.1" cy="223.2" r="1.6" fill="#8a18ee"/>
<circle cx="175.3" cy="228.9" r="1.6" fill="#8a18ee"/>
<circle cx="171.4" cy="231.5" r="1.6" fill="#8a18ee"/>
<circle cx="182.2" cy="232" r="1.6" fill="#8a18ee"/>
<circle cx="178.6" cy="234.4" r="1.6" fill="#8a18ee"/>
<circle cx="186.5" cy="236.4" r="1.6" fill="#8a18ee"/>
<circle cx="190.1" cy="228.1" r="1.6" fill="#8a18ee"/>
<circle cx="193.6" cy="228.5" r="1.6" fill="#8a18ee"/>
<circle cx="182.2" cy="239.3" r="1.6" fill="#8a18ee"/>
<circle cx="190.1" cy="239.3" r="1.6" fill="#8a18ee"/>
<circle cx="171" cy="241.3" r="1.6" fill="#8a18ee"/>
<circle cx="174.9" cy="241.3" r="1.6" fill="#8a18ee"/>
<circle cx="178.6" cy="246.6" r="1.6" fill="#8a18ee"/>
<circle cx="186.1" cy="244.2" r="1.6" fill="#8a18ee"/>
<circle cx="193.6" cy="245.2" r="1.6" fill="#8a18ee"/>
<path d="M182.2 204.9 C182.27 205.92 182.27 208.98 182.6 211 C182.93 213.02 183.3 215.08 184.2 217 C185.1 218.92 186.62 220.83 188 222.5 C189.38 224.17 191.33 225.5 192.5 227 C193.67 228.5 195 230 195 231.5 C195 233 193.67 234.5 192.5 236 C191.33 237.5 189.38 238.83 188 240.5 C186.62 242.17 185.1 244.08 184.2 246 C183.3 247.92 182.93 249.25 182.6 252 C182.27 254.75 182.27 260.75 182.2 262.5" fill="none" stroke="#9b2ff0" stroke-width="0.9"/>
<defs><radialGradient id="bt" cx="0.4" cy="0.35" r="0.7"><stop offset="0" stop-color="#8fe0da"/><stop offset="0.45" stop-color="#1a9f98"/><stop offset="1" stop-color="#0a6f6c"/></radialGradient><radialGradient id="bp" cx="0.4" cy="0.35" r="0.7"><stop offset="0" stop-color="#e2b8ff"/><stop offset="0.45" stop-color="#8a10f4"/><stop offset="1" stop-color="#6a00c8"/></radialGradient><clipPath id="ce"><rect x="265.4" y="194" width="183.2" height="134.4"/></clipPath><clipPath id="cf"><rect x="493.8" y="193.4" width="184" height="135"/></clipPath></defs>
<g clip-path="url(#ce)">
<path d="M265.4 200.85 L266.13 200.85 L266.86 200.85 L267.6 200.85 L268.33 200.85 L269.06 200.85 L269.79 200.85 L270.53 200.85 L271.26 200.85 L271.99 200.85 L272.72 200.85 L273.46 200.85 L274.19 200.85 L274.92 200.85 L275.65 200.85 L276.39 200.85 L277.12 200.85 L277.85 200.85 L278.58 200.85 L279.32 200.85 L280.05 200.85 L280.78 200.85 L281.51 200.85 L282.25 200.85 L282.98 200.85 L283.71 200.85 L284.44 200.85 L285.18 200.85 L285.91 200.85 L286.64 200.85 L287.38 200.85 L288.11 200.85 L288.84 200.85 L289.57 200.85 L290.3 200.85 L291.04 200.85 L291.77 200.85 L292.5 200.85 L293.23 200.85 L293.97 200.85 L294.7 200.85 L295.43 200.85 L296.16 200.85 L296.9 200.85 L297.63 200.85 L298.36 200.85 L299.09 200.85 L299.83 200.85 L300.56 200.85 L301.29 200.85 L302.02 200.85 L302.76 200.85 L303.49 200.85 L304.22 200.85 L304.95 200.85 L305.69 200.85 L306.42 200.85 L307.15 200.85 L307.88 200.85 L308.62 200.85 L309.35 200.85 L310.08 200.85 L310.81 200.85 L311.55 200.85 L312.28 200.85 L313.01 200.85 L313.75 200.85 L314.48 200.85 L315.21 200.85 L315.94 200.85 L316.67 200.85 L317.41 200.85 L318.14 200.85 L318.87 200.85 L319.6 200.85 L320.34 200.85 L321.07 200.85 L321.8 200.85 L322.53 200.85 L323.27 200.85 L324 200.85 L324.73 200.85 L325.46 200.85 L326.2 200.85 L326.93 200.85 L327.66 200.85 L328.39 200.85 L329.13 200.85 L329.86 200.85 L330.59 200.85 L331.32 200.85 L332.06 200.85 L332.79 200.85 L333.52 200.85 L334.25 200.85 L334.99 200.85 L335.72 200.85 L336.45 200.85 L337.18 200.85 L337.92 200.85 L338.65 200.85 L339.38 200.85 L340.12 200.85 L340.85 200.85 L341.58 200.85 L342.31 200.85 L343.04 200.85 L343.78 200.85 L344.51 200.85 L345.24 200.85 L345.97 200.85 L346.71 200.85 L347.44 200.85 L348.17 200.85 L348.9 200.85 L349.64 200.85 L350.37 200.85 L351.1 200.85 L351.83 200.85 L352.57 200.85 L353.3 200.85 L354.03 200.85 L354.76 200.85 L355.5 200.85 L356.23 200.85 L356.96 200.86 L357.69 200.86 L358.43 200.86 L359.16 200.86 L359.89 200.86 L360.62 200.86 L361.36 200.86 L362.09 200.86 L362.82 200.86 L363.55 200.86 L364.29 200.86 L365.02 200.86 L365.75 200.86 L366.49 200.86 L367.22 200.86 L367.95 200.86 L368.68 200.86 L369.41 200.87 L370.15 200.87 L370.88 200.87 L371.61 200.87 L372.34 200.87 L373.08 200.87 L373.81 200.88 L374.54 200.88 L375.27 200.88 L376.01 200.89 L376.74 200.89 L377.47 200.89 L378.2 200.9 L378.94 200.9 L379.67 200.91 L380.4 200.91 L381.13 200.92 L381.87 200.93 L382.6 200.94 L383.33 200.95 L384.06 200.96 L384.8 200.97 L385.53 200.98 L386.26 200.99 L387 201.01 L387.73 201.03 L388.46 201.05 L389.19 201.07 L389.92 201.09 L390.66 201.12 L391.39 201.15 L392.12 201.18 L392.85 201.22 L393.59 201.26 L394.32 201.3 L395.05 201.35 L395.78 201.4 L396.52 201.47 L397.25 201.53 L397.98 201.61 L398.71 201.69 L399.45 201.79 L400.18 201.89 L400.91 202 L401.64 202.13 L402.38 202.27 L403.11 202.43 L403.84 202.6 L404.57 202.79 L405.31 203.01 L406.04 203.24 L406.77 203.51 L407.5 203.8 L408.24 204.13 L408.97 204.49 L409.7 204.88 L410.43 205.33 L411.17 205.82 L411.9 206.36 L412.63 206.96 L413.37 207.63 L414.1 208.37 L414.83 209.19 L415.56 210.1 L416.29 211.1 L417.03 212.21 L417.76 213.44 L418.49 214.8 L419.23 216.3 L419.96 217.95 L420.69 219.78 L421.42 221.79 L422.15 224.01 L422.89 226.45 L423.62 229.13 L424.35 232.08 L425.08 235.32 L425.82 238.87 L426.55 242.76 L427.28 247.02 L428.01 251.66 L428.75 256.73 L429.48 262.25 L430.21 268.25 L430.94 274.76 L431.68 281.81 L432.41 289.44 L433.14 297.67 L433.88 306.53 L434.61 316.06 L435.34 326.27 L436.07 337.2 L436.8 348.86 L437.54 361.29 L438.27 374.49 L439 388.48 L439.73 403.28 L440.47 418.89 L441.2 435.33 L441.93 452.6 L442.66 470.7 L443.4 489.63" fill="none" stroke="#17958f" stroke-width="0.8"/>
<circle cx="268.18" cy="200.85" r="2.2" fill="url(#bt)"/>
<circle cx="271.11" cy="200.85" r="2.2" fill="url(#bt)"/>
<circle cx="274.04" cy="200.85" r="2.2" fill="url(#bt)"/>
<circle cx="276.97" cy="200.85" r="2.2" fill="url(#bt)"/>
<circle cx="279.9" cy="200.85" r="2.2" fill="url(#bt)"/>
<circle cx="282.83" cy="200.85" r="2.2" fill="url(#bt)"/>
<circle cx="285.76" cy="200.85" r="2.2" fill="url(#bt)"/>
<circle cx="288.69" cy="200.85" r="2.2" fill="url(#bt)"/>
<circle cx="291.62" cy="200.85" r="2.2" fill="url(#bt)"/>
<circle cx="294.55" cy="200.85" r="2.2" fill="url(#bt)"/>
<circle cx="297.48" cy="200.85" r="2.2" fill="url(#bt)"/>
<circle cx="300.41" cy="200.85" r="2.2" fill="url(#bt)"/>
<circle cx="303.34" cy="200.85" r="2.2" fill="url(#bt)"/>
<circle cx="306.27" cy="200.85" r="2.2" fill="url(#bt)"/>
<circle cx="309.2" cy="200.85" r="2.2" fill="url(#bt)"/>
<circle cx="312.13" cy="200.85" r="2.2" fill="url(#bt)"/>
<circle cx="315.06" cy="200.85" r="2.2" fill="url(#bt)"/>
<circle cx="317.99" cy="200.85" r="2.2" fill="url(#bt)"/>
<circle cx="320.92" cy="200.85" r="2.2" fill="url(#bt)"/>
<circle cx="323.85" cy="200.85" r="2.2" fill="url(#bt)"/>
<circle cx="326.78" cy="200.85" r="2.2" fill="url(#bt)"/>
<circle cx="329.71" cy="200.85" r="2.2" fill="url(#bt)"/>
<circle cx="332.64" cy="200.85" r="2.2" fill="url(#bt)"/>
<circle cx="335.57" cy="200.85" r="2.2" fill="url(#bt)"/>
<circle cx="338.5" cy="200.85" r="2.2" fill="url(#bt)"/>
<circle cx="341.43" cy="200.85" r="2.2" fill="url(#bt)"/>
<circle cx="344.36" cy="200.85" r="2.2" fill="url(#bt)"/>
<circle cx="347.29" cy="200.85" r="2.2" fill="url(#bt)"/>
<circle cx="350.22" cy="200.85" r="2.2" fill="url(#bt)"/>
<circle cx="353.15" cy="200.85" r="2.2" fill="url(#bt)"/>
<circle cx="356.08" cy="200.85" r="2.2" fill="url(#bt)"/>
<circle cx="359.01" cy="200.86" r="2.2" fill="url(#bt)"/>
<circle cx="361.94" cy="200.86" r="2.2" fill="url(#bt)"/>
<circle cx="364.87" cy="200.86" r="2.2" fill="url(#bt)"/>
<circle cx="367.8" cy="200.86" r="2.2" fill="url(#bt)"/>
<circle cx="370.73" cy="200.87" r="2.2" fill="url(#bt)"/>
<circle cx="373.66" cy="200.88" r="2.2" fill="url(#bt)"/>
<circle cx="376.59" cy="200.89" r="2.2" fill="url(#bt)"/>
<circle cx="379.52" cy="200.91" r="2.2" fill="url(#bt)"/>
<circle cx="382.45" cy="200.93" r="2.2" fill="url(#bt)"/>
<circle cx="385.38" cy="200.98" r="2.2" fill="url(#bt)"/>
<circle cx="388.31" cy="201.04" r="2.2" fill="url(#bt)"/>
<circle cx="391.24" cy="201.14" r="2.2" fill="url(#bt)"/>
<circle cx="394.17" cy="201.29" r="2.2" fill="url(#bt)"/>
<circle cx="397.1" cy="201.52" r="2.2" fill="url(#bt)"/>
<circle cx="400.03" cy="201.87" r="2.2" fill="url(#bt)"/>
<circle cx="402.96" cy="202.39" r="2.2" fill="url(#bt)"/>
<circle cx="405.89" cy="203.2" r="2.2" fill="url(#bt)"/>
<circle cx="408.82" cy="204.41" r="2.2" fill="url(#bt)"/>
<circle cx="411.75" cy="206.25" r="2.2" fill="url(#bt)"/>
<circle cx="414.68" cy="209.02" r="2.2" fill="url(#bt)"/>
<circle cx="417.61" cy="213.18" r="2.2" fill="url(#bt)"/>
<circle cx="420.54" cy="219.4" r="2.2" fill="url(#bt)"/>
<circle cx="423.47" cy="228.58" r="2.2" fill="url(#bt)"/>
<circle cx="426.4" cy="241.96" r="2.2" fill="url(#bt)"/>
<circle cx="429.33" cy="261.11" r="2.2" fill="url(#bt)"/>
<circle cx="432.26" cy="287.87" r="2.2" fill="url(#bt)"/>
<circle cx="435.19" cy="324.17" r="2.2" fill="url(#bt)"/>
<circle cx="438.12" cy="371.78" r="2.2" fill="url(#bt)"/>
<circle cx="441.05" cy="431.98" r="2.2" fill="url(#bt)"/>
<path d="M265.4 200.12 L266.13 200.12 L266.86 200.12 L267.6 200.12 L268.33 200.12 L269.06 200.12 L269.79 200.12 L270.53 200.12 L271.26 200.12 L271.99 200.12 L272.72 200.12 L273.46 200.12 L274.19 200.12 L274.92 200.12 L275.65 200.12 L276.39 200.12 L277.12 200.12 L277.85 200.12 L278.58 200.12 L279.32 200.12 L280.05 200.12 L280.78 200.12 L281.51 200.12 L282.25 200.12 L282.98 200.12 L283.71 200.12 L284.44 200.12 L285.18 200.12 L285.91 200.12 L286.64 200.12 L287.38 200.12 L288.11 200.12 L288.84 200.12 L289.57 200.12 L290.3 200.12 L291.04 200.12 L291.77 200.12 L292.5 200.12 L293.23 200.12 L293.97 200.12 L294.7 200.12 L295.43 200.12 L296.16 200.12 L296.9 200.12 L297.63 200.12 L298.36 200.12 L299.09 200.12 L299.83 200.12 L300.56 200.12 L301.29 200.12 L302.02 200.12 L302.76 200.12 L303.49 200.12 L304.22 200.12 L304.95 200.12 L305.69 200.12 L306.42 200.12 L307.15 200.12 L307.88 200.12 L308.62 200.12 L309.35 200.12 L310.08 200.12 L310.81 200.12 L311.55 200.12 L312.28 200.12 L313.01 200.12 L313.75 200.12 L314.48 200.12 L315.21 200.12 L315.94 200.12 L316.67 200.12 L317.41 200.12 L318.14 200.12 L318.87 200.12 L319.6 200.12 L320.34 200.12 L321.07 200.12 L321.8 200.12 L322.53 200.12 L323.27 200.12 L324 200.12 L324.73 200.12 L325.46 200.12 L326.2 200.12 L326.93 200.12 L327.66 200.12 L328.39 200.12 L329.13 200.12 L329.86 200.12 L330.59 200.12 L331.32 200.12 L332.06 200.12 L332.79 200.12 L333.52 200.12 L334.25 200.12 L334.99 200.12 L335.72 200.12 L336.45 200.12 L337.18 200.12 L337.92 200.12 L338.65 200.12 L339.38 200.12 L340.12 200.12 L340.85 200.12 L341.58 200.12 L342.31 200.12 L343.04 200.12 L343.78 200.12 L344.51 200.12 L345.24 200.12 L345.97 200.12 L346.71 200.12 L347.44 200.12 L348.17 200.12 L348.9 200.12 L349.64 200.12 L350.37 200.12 L351.1 200.12 L351.83 200.12 L352.57 200.12 L353.3 200.12 L354.03 200.12 L354.76 200.12 L355.5 200.12 L356.23 200.12 L356.96 200.12 L357.69 200.12 L358.43 200.12 L359.16 200.12 L359.89 200.12 L360.62 200.12 L361.36 200.12 L362.09 200.12 L362.82 200.12 L363.55 200.12 L364.29 200.12 L365.02 200.12 L365.75 200.12 L366.49 200.12 L367.22 200.12 L367.95 200.12 L368.68 200.12 L369.41 200.12 L370.15 200.12 L370.88 200.12 L371.61 200.12 L372.34 200.12 L373.08 200.12 L373.81 200.12 L374.54 200.12 L375.27 200.12 L376.01 200.12 L376.74 200.12 L377.47 200.12 L378.2 200.12 L378.94 200.12 L379.67 200.12 L380.4 200.12 L381.13 200.12 L381.87 200.12 L382.6 200.12 L383.33 200.12 L384.06 200.12 L384.8 200.12 L385.53 200.12 L386.26 200.12 L387 200.12 L387.73 200.12 L388.46 200.12 L389.19 200.12 L389.92 200.12 L390.66 200.12 L391.39 200.12 L392.12 200.12 L392.85 200.13 L393.59 200.13 L394.32 200.13 L395.05 200.13 L395.78 200.13 L396.52 200.13 L397.25 200.14 L397.98 200.14 L398.71 200.14 L399.45 200.15 L400.18 200.15 L400.91 200.16 L401.64 200.17 L402.38 200.18 L403.11 200.19 L403.84 200.2 L404.57 200.21 L405.31 200.23 L406.04 200.25 L406.77 200.27 L407.5 200.29 L408.24 200.32 L408.97 200.36 L409.7 200.4 L410.43 200.45 L411.17 200.5 L411.9 200.57 L412.63 200.65 L413.37 200.74 L414.1 200.85 L414.83 200.97 L415.56 201.12 L416.29 201.29 L417.03 201.49 L417.76 201.73 L418.49 202.01 L419.23 202.33 L419.96 202.7 L420.69 203.14 L421.42 203.66 L422.15 204.26 L422.89 204.95 L423.62 205.77 L424.35 206.71 L425.08 207.81 L425.82 209.08 L426.55 210.55 L427.28 212.25 L428.01 214.21 L428.75 216.46 L429.48 219.04 L430.21 221.98 L430.94 225.34 L431.68 229.14 L432.41 233.44 L433.14 238.27 L433.88 243.68 L434.61 249.71 L435.34 256.39 L436.07 263.75 L436.8 271.83 L437.54 280.64 L438.27 290.2 L439 300.52 L439.73 311.61 L440.47 323.45 L441.2 336.05 L441.93 349.39 L442.66 363.45 L443.4 378.22 L444.13 393.67 L444.86 409.79 L445.59 426.53 L446.33 443.89 L447.06 461.82 L447.79 480.31 L448.52 499.33" fill="none" stroke="#8a10f0" stroke-width="0.8"/>
<circle cx="268.18" cy="200.12" r="2.2" fill="url(#bp)"/>
<circle cx="271.11" cy="200.12" r="2.2" fill="url(#bp)"/>
<circle cx="274.04" cy="200.12" r="2.2" fill="url(#bp)"/>
<circle cx="276.97" cy="200.12" r="2.2" fill="url(#bp)"/>
<circle cx="279.9" cy="200.12" r="2.2" fill="url(#bp)"/>
<circle cx="282.83" cy="200.12" r="2.2" fill="url(#bp)"/>
<circle cx="285.76" cy="200.12" r="2.2" fill="url(#bp)"/>
<circle cx="288.69" cy="200.12" r="2.2" fill="url(#bp)"/>
<circle cx="291.62" cy="200.12" r="2.2" fill="url(#bp)"/>
<circle cx="294.55" cy="200.12" r="2.2" fill="url(#bp)"/>
<circle cx="297.48" cy="200.12" r="2.2" fill="url(#bp)"/>
<circle cx="300.41" cy="200.12" r="2.2" fill="url(#bp)"/>
<circle cx="303.34" cy="200.12" r="2.2" fill="url(#bp)"/>
<circle cx="306.27" cy="200.12" r="2.2" fill="url(#bp)"/>
<circle cx="309.2" cy="200.12" r="2.2" fill="url(#bp)"/>
<circle cx="312.13" cy="200.12" r="2.2" fill="url(#bp)"/>
<circle cx="315.06" cy="200.12" r="2.2" fill="url(#bp)"/>
<circle cx="317.99" cy="200.12" r="2.2" fill="url(#bp)"/>
<circle cx="320.92" cy="200.12" r="2.2" fill="url(#bp)"/>
<circle cx="323.85" cy="200.12" r="2.2" fill="url(#bp)"/>
<circle cx="326.78" cy="200.12" r="2.2" fill="url(#bp)"/>
<circle cx="329.71" cy="200.12" r="2.2" fill="url(#bp)"/>
<circle cx="332.64" cy="200.12" r="2.2" fill="url(#bp)"/>
<circle cx="335.57" cy="200.12" r="2.2" fill="url(#bp)"/>
<circle cx="338.5" cy="200.12" r="2.2" fill="url(#bp)"/>
<circle cx="341.43" cy="200.12" r="2.2" fill="url(#bp)"/>
<circle cx="344.36" cy="200.12" r="2.2" fill="url(#bp)"/>
<circle cx="347.29" cy="200.12" r="2.2" fill="url(#bp)"/>
<circle cx="350.22" cy="200.12" r="2.2" fill="url(#bp)"/>
<circle cx="353.15" cy="200.12" r="2.2" fill="url(#bp)"/>
<circle cx="356.08" cy="200.12" r="2.2" fill="url(#bp)"/>
<circle cx="359.01" cy="200.12" r="2.2" fill="url(#bp)"/>
<circle cx="361.94" cy="200.12" r="2.2" fill="url(#bp)"/>
<circle cx="364.87" cy="200.12" r="2.2" fill="url(#bp)"/>
<circle cx="367.8" cy="200.12" r="2.2" fill="url(#bp)"/>
<circle cx="370.73" cy="200.12" r="2.2" fill="url(#bp)"/>
<circle cx="373.66" cy="200.12" r="2.2" fill="url(#bp)"/>
<circle cx="376.59" cy="200.12" r="2.2" fill="url(#bp)"/>
<circle cx="379.52" cy="200.12" r="2.2" fill="url(#bp)"/>
<circle cx="382.45" cy="200.12" r="2.2" fill="url(#bp)"/>
<circle cx="385.38" cy="200.12" r="2.2" fill="url(#bp)"/>
<circle cx="388.31" cy="200.12" r="2.2" fill="url(#bp)"/>
<circle cx="391.24" cy="200.12" r="2.2" fill="url(#bp)"/>
<circle cx="394.17" cy="200.13" r="2.2" fill="url(#bp)"/>
<circle cx="397.1" cy="200.14" r="2.2" fill="url(#bp)"/>
<circle cx="400.03" cy="200.15" r="2.2" fill="url(#bp)"/>
<circle cx="402.96" cy="200.18" r="2.2" fill="url(#bp)"/>
<circle cx="405.89" cy="200.24" r="2.2" fill="url(#bp)"/>
<circle cx="408.82" cy="200.35" r="2.2" fill="url(#bp)"/>
<circle cx="411.75" cy="200.56" r="2.2" fill="url(#bp)"/>
<circle cx="414.68" cy="200.95" r="2.2" fill="url(#bp)"/>
<circle cx="417.61" cy="201.68" r="2.2" fill="url(#bp)"/>
<circle cx="420.54" cy="203.05" r="2.2" fill="url(#bp)"/>
<circle cx="423.47" cy="205.59" r="2.2" fill="url(#bp)"/>
<circle cx="426.4" cy="210.24" r="2.2" fill="url(#bp)"/>
<circle cx="429.33" cy="218.49" r="2.2" fill="url(#bp)"/>
<circle cx="432.26" cy="232.54" r="2.2" fill="url(#bp)"/>
<circle cx="435.19" cy="255" r="2.2" fill="url(#bp)"/>
<circle cx="438.12" cy="288.23" r="2.2" fill="url(#bp)"/>
<circle cx="441.05" cy="333.47" r="2.2" fill="url(#bp)"/>
<circle cx="443.98" cy="390.53" r="2.2" fill="url(#bp)"/>
<circle cx="446.91" cy="458.19" r="2.2" fill="url(#bp)"/>
</g>
<rect x="265.4" y="193.8" width="183.2" height="134.6" fill="none" stroke="#3a3a3a" stroke-width="1.1"/>
<line x1="261.8" y1="328.4" x2="265.4" y2="328.4" stroke="#3a3a3a" stroke-width="1" />
<text x="258.5" y="331.3" font-size="8.1" text-anchor="end" font-weight="normal" fill="#222" >0</text>
<line x1="261.8" y1="303.9" x2="265.4" y2="303.9" stroke="#3a3a3a" stroke-width="1" />
<text x="258.5" y="306.8" font-size="8.1" text-anchor="end" font-weight="normal" fill="#222" >5</text>
<line x1="261.8" y1="279.4" x2="265.4" y2="279.4" stroke="#3a3a3a" stroke-width="1" />
<text x="258.5" y="282.3" font-size="8.1" text-anchor="end" font-weight="normal" fill="#222" >10</text>
<line x1="261.8" y1="254.9" x2="265.4" y2="254.9" stroke="#3a3a3a" stroke-width="1" />
<text x="258.5" y="257.8" font-size="8.1" text-anchor="end" font-weight="normal" fill="#222" >15</text>
<line x1="261.8" y1="230.4" x2="265.4" y2="230.4" stroke="#3a3a3a" stroke-width="1" />
<text x="258.5" y="233.3" font-size="8.1" text-anchor="end" font-weight="normal" fill="#222" >20</text>
<line x1="261.8" y1="205.9" x2="265.4" y2="205.9" stroke="#3a3a3a" stroke-width="1" />
<text x="258.5" y="208.8" font-size="8.1" text-anchor="end" font-weight="normal" fill="#222" >25</text>
<line x1="265.4" y1="328.4" x2="265.4" y2="331.9" stroke="#3a3a3a" stroke-width="1" />
<text x="265.4" y="341.3" font-size="8.1" text-anchor="middle" font-weight="normal" fill="#222" >0</text>
<line x1="294.7" y1="328.4" x2="294.7" y2="331.9" stroke="#3a3a3a" stroke-width="1" />
<text x="294.7" y="341.3" font-size="8.1" text-anchor="middle" font-weight="normal" fill="#222" >0.2</text>
<line x1="324" y1="328.4" x2="324" y2="331.9" stroke="#3a3a3a" stroke-width="1" />
<text x="324" y="341.3" font-size="8.1" text-anchor="middle" font-weight="normal" fill="#222" >0.4</text>
<line x1="353.3" y1="328.4" x2="353.3" y2="331.9" stroke="#3a3a3a" stroke-width="1" />
<text x="353.3" y="341.3" font-size="8.1" text-anchor="middle" font-weight="normal" fill="#222" >0.6</text>
<line x1="382.6" y1="328.4" x2="382.6" y2="331.9" stroke="#3a3a3a" stroke-width="1" />
<text x="382.6" y="341.3" font-size="8.1" text-anchor="middle" font-weight="normal" fill="#222" >0.8</text>
<line x1="411.9" y1="328.4" x2="411.9" y2="331.9" stroke="#3a3a3a" stroke-width="1" />
<text x="411.9" y="341.3" font-size="8.1" text-anchor="middle" font-weight="normal" fill="#222" >1.0</text>
<line x1="441.2" y1="328.4" x2="441.2" y2="331.9" stroke="#3a3a3a" stroke-width="1" />
<text x="441.2" y="341.3" font-size="8.1" text-anchor="middle" font-weight="normal" fill="#222" >1.2</text>
<text x="356.4" y="353.6" font-size="9.0" text-anchor="middle" font-weight="normal" fill="#222" >Voltage (V)</text>
<text transform="translate(241 264.6) rotate(-90)" font-size="9.0" text-anchor="middle" fill="#222">Current density (mA cm<tspan dy="-3" font-size="5.5">&#8722;2</tspan><tspan dy="3">)</tspan></text>
<g clip-path="url(#cf)">
<path d="M493.8 200.61 L494.53 200.61 L495.26 200.61 L496 200.61 L496.73 200.61 L497.46 200.61 L498.19 200.61 L498.93 200.61 L499.66 200.61 L500.39 200.61 L501.12 200.61 L501.86 200.61 L502.59 200.61 L503.32 200.61 L504.06 200.61 L504.79 200.61 L505.52 200.61 L506.25 200.61 L506.99 200.61 L507.72 200.61 L508.45 200.61 L509.18 200.61 L509.92 200.61 L510.65 200.61 L511.38 200.61 L512.11 200.61 L512.85 200.61 L513.58 200.61 L514.31 200.61 L515.04 200.61 L515.77 200.61 L516.51 200.61 L517.24 200.61 L517.97 200.61 L518.71 200.61 L519.44 200.61 L520.17 200.61 L520.9 200.61 L521.63 200.61 L522.37 200.61 L523.1 200.61 L523.83 200.61 L524.57 200.61 L525.3 200.61 L526.03 200.61 L526.76 200.61 L527.5 200.61 L528.23 200.61 L528.96 200.61 L529.69 200.61 L530.42 200.61 L531.16 200.61 L531.89 200.61 L532.62 200.61 L533.36 200.61 L534.09 200.61 L534.82 200.61 L535.55 200.61 L536.28 200.61 L537.02 200.61 L537.75 200.61 L538.48 200.61 L539.22 200.61 L539.95 200.61 L540.68 200.61 L541.41 200.61 L542.14 200.61 L542.88 200.61 L543.61 200.61 L544.34 200.61 L545.08 200.61 L545.81 200.61 L546.54 200.61 L547.27 200.61 L548 200.61 L548.74 200.61 L549.47 200.61 L550.2 200.61 L550.94 200.61 L551.67 200.61 L552.4 200.61 L553.13 200.61 L553.87 200.61 L554.6 200.61 L555.33 200.61 L556.06 200.61 L556.79 200.61 L557.53 200.61 L558.26 200.61 L558.99 200.61 L559.73 200.61 L560.46 200.61 L561.19 200.61 L561.92 200.61 L562.65 200.61 L563.39 200.61 L564.12 200.61 L564.85 200.61 L565.59 200.61 L566.32 200.61 L567.05 200.61 L567.78 200.61 L568.51 200.61 L569.25 200.61 L569.98 200.61 L570.71 200.61 L571.45 200.61 L572.18 200.61 L572.91 200.61 L573.64 200.61 L574.38 200.61 L575.11 200.61 L575.84 200.61 L576.57 200.61 L577.31 200.61 L578.04 200.61 L578.77 200.61 L579.5 200.61 L580.24 200.61 L580.97 200.61 L581.7 200.61 L582.43 200.61 L583.16 200.61 L583.9 200.61 L584.63 200.61 L585.36 200.61 L586.1 200.61 L586.83 200.61 L587.56 200.61 L588.29 200.61 L589.02 200.61 L589.76 200.61 L590.49 200.61 L591.22 200.61 L591.96 200.61 L592.69 200.61 L593.42 200.61 L594.15 200.61 L594.88 200.61 L595.62 200.61 L596.35 200.61 L597.08 200.61 L597.82 200.61 L598.55 200.61 L599.28 200.61 L600.01 200.61 L600.75 200.61 L601.48 200.61 L602.21 200.61 L602.94 200.61 L603.67 200.61 L604.41 200.61 L605.14 200.61 L605.87 200.62 L606.61 200.62 L607.34 200.62 L608.07 200.62 L608.8 200.62 L609.53 200.62 L610.27 200.62 L611 200.62 L611.73 200.63 L612.47 200.63 L613.2 200.63 L613.93 200.63 L614.66 200.64 L615.39 200.64 L616.13 200.65 L616.86 200.65 L617.59 200.65 L618.33 200.66 L619.06 200.67 L619.79 200.67 L620.52 200.68 L621.25 200.69 L621.99 200.7 L622.72 200.71 L623.45 200.73 L624.18 200.74 L624.92 200.76 L625.65 200.77 L626.38 200.79 L627.12 200.82 L627.85 200.84 L628.58 200.87 L629.31 200.91 L630.05 200.94 L630.78 200.98 L631.51 201.03 L632.24 201.08 L632.98 201.14 L633.71 201.2 L634.44 201.28 L635.17 201.36 L635.9 201.45 L636.64 201.55 L637.37 201.67 L638.1 201.8 L638.84 201.94 L639.57 202.11 L640.3 202.29 L641.03 202.5 L641.76 202.73 L642.5 202.99 L643.23 203.28 L643.96 203.6 L644.7 203.97 L645.43 204.38 L646.16 204.84 L646.89 205.36 L647.62 205.94 L648.36 206.59 L649.09 207.31 L649.82 208.13 L650.56 209.04 L651.29 210.06 L652.02 211.21 L652.75 212.49 L653.49 213.92 L654.22 215.53 L654.95 217.32 L655.68 219.32 L656.41 221.56 L657.15 224.06 L657.88 226.84 L658.61 229.94 L659.35 233.4 L660.08 237.24 L660.81 241.51 L661.54 246.25 L662.28 251.51 L663.01 257.34 L663.74 263.78 L664.47 270.89 L665.21 278.73 L665.94 287.35 L666.67 296.82 L667.4 307.21 L668.13 318.57 L668.87 330.97 L669.6 344.46 L670.33 359.12 L671.07 375 L671.8 392.16 L672.53 410.66 L673.26 430.53 L674 451.82 L674.73 474.58 L675.46 498.83 L676.19 524.6" fill="none" stroke="#7d12e8" stroke-width="0.8"/>
<circle cx="494.39" cy="200.61" r="2.3" fill="url(#bp)"/>
<circle cx="497.42" cy="200.61" r="2.3" fill="url(#bp)"/>
<circle cx="500.45" cy="200.61" r="2.3" fill="url(#bp)"/>
<circle cx="503.48" cy="200.61" r="2.3" fill="url(#bp)"/>
<circle cx="506.52" cy="200.61" r="2.3" fill="url(#bp)"/>
<circle cx="509.55" cy="200.61" r="2.3" fill="url(#bp)"/>
<circle cx="512.58" cy="200.61" r="2.3" fill="url(#bp)"/>
<circle cx="515.61" cy="200.61" r="2.3" fill="url(#bp)"/>
<circle cx="518.65" cy="200.61" r="2.3" fill="url(#bp)"/>
<circle cx="521.68" cy="200.61" r="2.3" fill="url(#bp)"/>
<circle cx="524.71" cy="200.61" r="2.3" fill="url(#bp)"/>
<circle cx="527.74" cy="200.61" r="2.3" fill="url(#bp)"/>
<circle cx="530.78" cy="200.61" r="2.3" fill="url(#bp)"/>
<circle cx="533.81" cy="200.61" r="2.3" fill="url(#bp)"/>
<circle cx="536.84" cy="200.61" r="2.3" fill="url(#bp)"/>
<circle cx="539.87" cy="200.61" r="2.3" fill="url(#bp)"/>
<circle cx="542.91" cy="200.61" r="2.3" fill="url(#bp)"/>
<circle cx="545.94" cy="200.61" r="2.3" fill="url(#bp)"/>
<circle cx="548.97" cy="200.61" r="2.3" fill="url(#bp)"/>
<circle cx="552" cy="200.61" r="2.3" fill="url(#bp)"/>
<circle cx="555.04" cy="200.61" r="2.3" fill="url(#bp)"/>
<circle cx="558.07" cy="200.61" r="2.3" fill="url(#bp)"/>
<circle cx="561.1" cy="200.61" r="2.3" fill="url(#bp)"/>
<circle cx="564.13" cy="200.61" r="2.3" fill="url(#bp)"/>
<circle cx="567.17" cy="200.61" r="2.3" fill="url(#bp)"/>
<circle cx="570.2" cy="200.61" r="2.3" fill="url(#bp)"/>
<circle cx="573.23" cy="200.61" r="2.3" fill="url(#bp)"/>
<circle cx="576.26" cy="200.61" r="2.3" fill="url(#bp)"/>
<circle cx="579.3" cy="200.61" r="2.3" fill="url(#bp)"/>
<circle cx="582.33" cy="200.61" r="2.3" fill="url(#bp)"/>
<circle cx="585.36" cy="200.61" r="2.3" fill="url(#bp)"/>
<circle cx="588.4" cy="200.61" r="2.3" fill="url(#bp)"/>
<circle cx="591.43" cy="200.61" r="2.3" fill="url(#bp)"/>
<circle cx="594.46" cy="200.61" r="2.3" fill="url(#bp)"/>
<circle cx="597.49" cy="200.61" r="2.3" fill="url(#bp)"/>
<circle cx="600.53" cy="200.61" r="2.3" fill="url(#bp)"/>
<circle cx="603.56" cy="200.61" r="2.3" fill="url(#bp)"/>
<circle cx="606.59" cy="200.62" r="2.3" fill="url(#bp)"/>
<circle cx="609.62" cy="200.62" r="2.3" fill="url(#bp)"/>
<circle cx="612.66" cy="200.63" r="2.3" fill="url(#bp)"/>
<circle cx="615.69" cy="200.64" r="2.3" fill="url(#bp)"/>
<circle cx="618.72" cy="200.66" r="2.3" fill="url(#bp)"/>
<circle cx="621.75" cy="200.7" r="2.3" fill="url(#bp)"/>
<circle cx="624.79" cy="200.75" r="2.3" fill="url(#bp)"/>
<circle cx="627.82" cy="200.84" r="2.3" fill="url(#bp)"/>
<circle cx="630.85" cy="200.99" r="2.3" fill="url(#bp)"/>
<circle cx="633.88" cy="201.22" r="2.3" fill="url(#bp)"/>
<circle cx="636.92" cy="201.59" r="2.3" fill="url(#bp)"/>
<circle cx="639.95" cy="202.2" r="2.3" fill="url(#bp)"/>
<circle cx="642.98" cy="203.18" r="2.3" fill="url(#bp)"/>
<circle cx="646.01" cy="204.75" r="2.3" fill="url(#bp)"/>
<circle cx="649.05" cy="207.27" r="2.3" fill="url(#bp)"/>
<circle cx="652.08" cy="211.31" r="2.3" fill="url(#bp)"/>
<circle cx="655.11" cy="217.74" r="2.3" fill="url(#bp)"/>
<circle cx="658.14" cy="227.92" r="2.3" fill="url(#bp)"/>
<circle cx="661.18" cy="243.82" r="2.3" fill="url(#bp)"/>
<circle cx="664.21" cy="268.25" r="2.3" fill="url(#bp)"/>
<circle cx="667.24" cy="304.84" r="2.3" fill="url(#bp)"/>
<circle cx="670.27" cy="357.91" r="2.3" fill="url(#bp)"/>
<circle cx="673.31" cy="431.77" r="2.3" fill="url(#bp)"/>
<path d="M493.8 200.9 L494.53 200.9 L495.26 200.9 L496 200.9 L496.73 200.9 L497.46 200.9 L498.19 200.9 L498.93 200.9 L499.66 200.9 L500.39 200.9 L501.12 200.9 L501.86 200.9 L502.59 200.9 L503.32 200.9 L504.06 200.9 L504.79 200.9 L505.52 200.9 L506.25 200.9 L506.99 200.9 L507.72 200.9 L508.45 200.9 L509.18 200.9 L509.92 200.9 L510.65 200.9 L511.38 200.9 L512.11 200.9 L512.85 200.9 L513.58 200.9 L514.31 200.9 L515.04 200.9 L515.77 200.9 L516.51 200.9 L517.24 200.9 L517.97 200.9 L518.71 200.9 L519.44 200.9 L520.17 200.9 L520.9 200.9 L521.63 200.9 L522.37 200.9 L523.1 200.9 L523.83 200.9 L524.57 200.9 L525.3 200.9 L526.03 200.9 L526.76 200.9 L527.5 200.9 L528.23 200.9 L528.96 200.9 L529.69 200.9 L530.42 200.9 L531.16 200.9 L531.89 200.9 L532.62 200.9 L533.36 200.9 L534.09 200.9 L534.82 200.9 L535.55 200.9 L536.28 200.9 L537.02 200.9 L537.75 200.9 L538.48 200.9 L539.22 200.9 L539.95 200.9 L540.68 200.9 L541.41 200.9 L542.14 200.9 L542.88 200.9 L543.61 200.9 L544.34 200.9 L545.08 200.9 L545.81 200.9 L546.54 200.9 L547.27 200.9 L548 200.9 L548.74 200.9 L549.47 200.9 L550.2 200.9 L550.94 200.9 L551.67 200.9 L552.4 200.9 L553.13 200.9 L553.87 200.9 L554.6 200.9 L555.33 200.9 L556.06 200.9 L556.79 200.9 L557.53 200.9 L558.26 200.9 L558.99 200.9 L559.73 200.9 L560.46 200.9 L561.19 200.9 L561.92 200.9 L562.65 200.9 L563.39 200.9 L564.12 200.9 L564.85 200.9 L565.59 200.9 L566.32 200.9 L567.05 200.9 L567.78 200.9 L568.51 200.9 L569.25 200.9 L569.98 200.9 L570.71 200.9 L571.45 200.9 L572.18 200.9 L572.91 200.9 L573.64 200.9 L574.38 200.9 L575.11 200.9 L575.84 200.9 L576.57 200.9 L577.31 200.9 L578.04 200.9 L578.77 200.9 L579.5 200.9 L580.24 200.9 L580.97 200.9 L581.7 200.9 L582.43 200.9 L583.16 200.9 L583.9 200.9 L584.63 200.9 L585.36 200.9 L586.1 200.9 L586.83 200.9 L587.56 200.9 L588.29 200.9 L589.02 200.9 L589.76 200.9 L590.49 200.9 L591.22 200.9 L591.96 200.9 L592.69 200.9 L593.42 200.9 L594.15 200.9 L594.88 200.9 L595.62 200.9 L596.35 200.9 L597.08 200.9 L597.82 200.9 L598.55 200.9 L599.28 200.9 L600.01 200.9 L600.75 200.9 L601.48 200.9 L602.21 200.91 L602.94 200.91 L603.67 200.91 L604.41 200.91 L605.14 200.91 L605.87 200.91 L606.61 200.91 L607.34 200.91 L608.07 200.91 L608.8 200.91 L609.53 200.91 L610.27 200.91 L611 200.92 L611.73 200.92 L612.47 200.92 L613.2 200.92 L613.93 200.92 L614.66 200.93 L615.39 200.93 L616.13 200.93 L616.86 200.94 L617.59 200.94 L618.33 200.95 L619.06 200.95 L619.79 200.96 L620.52 200.97 L621.25 200.98 L621.99 200.99 L622.72 201 L623.45 201.01 L624.18 201.02 L624.92 201.04 L625.65 201.06 L626.38 201.07 L627.12 201.1 L627.85 201.12 L628.58 201.15 L629.31 201.18 L630.05 201.22 L630.78 201.26 L631.51 201.31 L632.24 201.36 L632.98 201.42 L633.71 201.48 L634.44 201.56 L635.17 201.64 L635.9 201.73 L636.64 201.84 L637.37 201.96 L638.1 202.1 L638.84 202.25 L639.57 202.42 L640.3 202.62 L641.03 202.83 L641.76 203.08 L642.5 203.36 L643.23 203.67 L643.96 204.03 L644.7 204.42 L645.43 204.87 L646.16 205.38 L646.89 205.94 L647.62 206.58 L648.36 207.3 L649.09 208.1 L649.82 209.01 L650.56 210.02 L651.29 211.16 L652.02 212.44 L652.75 213.87 L653.49 215.47 L654.22 217.25 L654.95 219.25 L655.68 221.48 L656.41 223.96 L657.15 226.72 L657.88 229.79 L658.61 233.19 L659.35 236.95 L660.08 241.1 L660.81 245.68 L661.54 250.72 L662.28 256.24 L663.01 262.29 L663.74 268.89 L664.47 276.08 L665.21 283.88 L665.94 292.32 L666.67 301.43 L667.4 311.23 L668.13 321.74 L668.87 332.98 L669.6 344.96 L670.33 357.7 L671.07 371.19 L671.8 385.44 L672.53 400.45 L673.26 416.21 L674 432.73 L674.73 449.99 L675.46 467.98 L676.19 486.68" fill="none" stroke="#8a20f0" stroke-width="0.8"/>
<circle cx="494.39" cy="200.9" r="2.15" fill="#fff" stroke="#8a20f0" stroke-width="0.9"/>
<circle cx="497.42" cy="200.9" r="2.15" fill="#fff" stroke="#8a20f0" stroke-width="0.9"/>
<circle cx="500.45" cy="200.9" r="2.15" fill="#fff" stroke="#8a20f0" stroke-width="0.9"/>
<circle cx="503.48" cy="200.9" r="2.15" fill="#fff" stroke="#8a20f0" stroke-width="0.9"/>
<circle cx="506.52" cy="200.9" r="2.15" fill="#fff" stroke="#8a20f0" stroke-width="0.9"/>
<circle cx="509.55" cy="200.9" r="2.15" fill="#fff" stroke="#8a20f0" stroke-width="0.9"/>
<circle cx="512.58" cy="200.9" r="2.15" fill="#fff" stroke="#8a20f0" stroke-width="0.9"/>
<circle cx="515.61" cy="200.9" r="2.15" fill="#fff" stroke="#8a20f0" stroke-width="0.9"/>
<circle cx="518.65" cy="200.9" r="2.15" fill="#fff" stroke="#8a20f0" stroke-width="0.9"/>
<circle cx="521.68" cy="200.9" r="2.15" fill="#fff" stroke="#8a20f0" stroke-width="0.9"/>
<circle cx="524.71" cy="200.9" r="2.15" fill="#fff" stroke="#8a20f0" stroke-width="0.9"/>
<circle cx="527.74" cy="200.9" r="2.15" fill="#fff" stroke="#8a20f0" stroke-width="0.9"/>
<circle cx="530.78" cy="200.9" r="2.15" fill="#fff" stroke="#8a20f0" stroke-width="0.9"/>
<circle cx="533.81" cy="200.9" r="2.15" fill="#fff" stroke="#8a20f0" stroke-width="0.9"/>
<circle cx="536.84" cy="200.9" r="2.15" fill="#fff" stroke="#8a20f0" stroke-width="0.9"/>
<circle cx="539.87" cy="200.9" r="2.15" fill="#fff" stroke="#8a20f0" stroke-width="0.9"/>
<circle cx="542.91" cy="200.9" r="2.15" fill="#fff" stroke="#8a20f0" stroke-width="0.9"/>
<circle cx="545.94" cy="200.9" r="2.15" fill="#fff" stroke="#8a20f0" stroke-width="0.9"/>
<circle cx="548.97" cy="200.9" r="2.15" fill="#fff" stroke="#8a20f0" stroke-width="0.9"/>
<circle cx="552" cy="200.9" r="2.15" fill="#fff" stroke="#8a20f0" stroke-width="0.9"/>
<circle cx="555.04" cy="200.9" r="2.15" fill="#fff" stroke="#8a20f0" stroke-width="0.9"/>
<circle cx="558.07" cy="200.9" r="2.15" fill="#fff" stroke="#8a20f0" stroke-width="0.9"/>
<circle cx="561.1" cy="200.9" r="2.15" fill="#fff" stroke="#8a20f0" stroke-width="0.9"/>
<circle cx="564.13" cy="200.9" r="2.15" fill="#fff" stroke="#8a20f0" stroke-width="0.9"/>
<circle cx="567.17" cy="200.9" r="2.15" fill="#fff" stroke="#8a20f0" stroke-width="0.9"/>
<circle cx="570.2" cy="200.9" r="2.15" fill="#fff" stroke="#8a20f0" stroke-width="0.9"/>
<circle cx="573.23" cy="200.9" r="2.15" fill="#fff" stroke="#8a20f0" stroke-width="0.9"/>
<circle cx="576.26" cy="200.9" r="2.15" fill="#fff" stroke="#8a20f0" stroke-width="0.9"/>
<circle cx="579.3" cy="200.9" r="2.15" fill="#fff" stroke="#8a20f0" stroke-width="0.9"/>
<circle cx="582.33" cy="200.9" r="2.15" fill="#fff" stroke="#8a20f0" stroke-width="0.9"/>
<circle cx="585.36" cy="200.9" r="2.15" fill="#fff" stroke="#8a20f0" stroke-width="0.9"/>
<circle cx="588.4" cy="200.9" r="2.15" fill="#fff" stroke="#8a20f0" stroke-width="0.9"/>
<circle cx="591.43" cy="200.9" r="2.15" fill="#fff" stroke="#8a20f0" stroke-width="0.9"/>
<circle cx="594.46" cy="200.9" r="2.15" fill="#fff" stroke="#8a20f0" stroke-width="0.9"/>
<circle cx="597.49" cy="200.9" r="2.15" fill="#fff" stroke="#8a20f0" stroke-width="0.9"/>
<circle cx="600.53" cy="200.9" r="2.15" fill="#fff" stroke="#8a20f0" stroke-width="0.9"/>
<circle cx="603.56" cy="200.91" r="2.15" fill="#fff" stroke="#8a20f0" stroke-width="0.9"/>
<circle cx="606.59" cy="200.91" r="2.15" fill="#fff" stroke="#8a20f0" stroke-width="0.9"/>
<circle cx="609.62" cy="200.91" r="2.15" fill="#fff" stroke="#8a20f0" stroke-width="0.9"/>
<circle cx="612.66" cy="200.92" r="2.15" fill="#fff" stroke="#8a20f0" stroke-width="0.9"/>
<circle cx="615.69" cy="200.93" r="2.15" fill="#fff" stroke="#8a20f0" stroke-width="0.9"/>
<circle cx="618.72" cy="200.95" r="2.15" fill="#fff" stroke="#8a20f0" stroke-width="0.9"/>
<circle cx="621.75" cy="200.98" r="2.15" fill="#fff" stroke="#8a20f0" stroke-width="0.9"/>
<circle cx="624.79" cy="201.03" r="2.15" fill="#fff" stroke="#8a20f0" stroke-width="0.9"/>
<circle cx="627.82" cy="201.12" r="2.15" fill="#fff" stroke="#8a20f0" stroke-width="0.9"/>
<circle cx="630.85" cy="201.26" r="2.15" fill="#fff" stroke="#8a20f0" stroke-width="0.9"/>
<circle cx="633.88" cy="201.5" r="2.15" fill="#fff" stroke="#8a20f0" stroke-width="0.9"/>
<circle cx="636.92" cy="201.88" r="2.15" fill="#fff" stroke="#8a20f0" stroke-width="0.9"/>
<circle cx="639.95" cy="202.52" r="2.15" fill="#fff" stroke="#8a20f0" stroke-width="0.9"/>
<circle cx="642.98" cy="203.56" r="2.15" fill="#fff" stroke="#8a20f0" stroke-width="0.9"/>
<circle cx="646.01" cy="205.27" r="2.15" fill="#fff" stroke="#8a20f0" stroke-width="0.9"/>
<circle cx="649.05" cy="208.05" r="2.15" fill="#fff" stroke="#8a20f0" stroke-width="0.9"/>
<circle cx="652.08" cy="212.54" r="2.15" fill="#fff" stroke="#8a20f0" stroke-width="0.9"/>
<circle cx="655.11" cy="219.72" r="2.15" fill="#fff" stroke="#8a20f0" stroke-width="0.9"/>
<circle cx="658.14" cy="230.97" r="2.15" fill="#fff" stroke="#8a20f0" stroke-width="0.9"/>
<circle cx="661.18" cy="248.14" r="2.15" fill="#fff" stroke="#8a20f0" stroke-width="0.9"/>
<circle cx="664.21" cy="273.42" r="2.15" fill="#fff" stroke="#8a20f0" stroke-width="0.9"/>
<circle cx="667.24" cy="309.02" r="2.15" fill="#fff" stroke="#8a20f0" stroke-width="0.9"/>
<circle cx="670.27" cy="356.65" r="2.15" fill="#fff" stroke="#8a20f0" stroke-width="0.9"/>
<circle cx="673.31" cy="417.18" r="2.15" fill="#fff" stroke="#8a20f0" stroke-width="0.9"/>
</g>
<rect x="493.8" y="193.4" width="183.8" height="135" fill="none" stroke="#3a3a3a" stroke-width="1.1"/>
<line x1="490.2" y1="328.4" x2="493.8" y2="328.4" stroke="#3a3a3a" stroke-width="1" />
<text x="486.9" y="331.3" font-size="8.1" text-anchor="end" font-weight="normal" fill="#222" >0</text>
<line x1="490.2" y1="303.9" x2="493.8" y2="303.9" stroke="#3a3a3a" stroke-width="1" />
<text x="486.9" y="306.8" font-size="8.1" text-anchor="end" font-weight="normal" fill="#222" >5</text>
<line x1="490.2" y1="279.4" x2="493.8" y2="279.4" stroke="#3a3a3a" stroke-width="1" />
<text x="486.9" y="282.3" font-size="8.1" text-anchor="end" font-weight="normal" fill="#222" >10</text>
<line x1="490.2" y1="254.9" x2="493.8" y2="254.9" stroke="#3a3a3a" stroke-width="1" />
<text x="486.9" y="257.8" font-size="8.1" text-anchor="end" font-weight="normal" fill="#222" >15</text>
<line x1="490.2" y1="230.4" x2="493.8" y2="230.4" stroke="#3a3a3a" stroke-width="1" />
<text x="486.9" y="233.3" font-size="8.1" text-anchor="end" font-weight="normal" fill="#222" >20</text>
<line x1="490.2" y1="205.9" x2="493.8" y2="205.9" stroke="#3a3a3a" stroke-width="1" />
<text x="486.9" y="208.8" font-size="8.1" text-anchor="end" font-weight="normal" fill="#222" >25</text>
<line x1="493.8" y1="328.4" x2="493.8" y2="331.9" stroke="#3a3a3a" stroke-width="1" />
<text x="493.8" y="341.3" font-size="8.1" text-anchor="middle" font-weight="normal" fill="#222" >0</text>
<line x1="523.1" y1="328.4" x2="523.1" y2="331.9" stroke="#3a3a3a" stroke-width="1" />
<text x="523.1" y="341.3" font-size="8.1" text-anchor="middle" font-weight="normal" fill="#222" >0.2</text>
<line x1="552.4" y1="328.4" x2="552.4" y2="331.9" stroke="#3a3a3a" stroke-width="1" />
<text x="552.4" y="341.3" font-size="8.1" text-anchor="middle" font-weight="normal" fill="#222" >0.4</text>
<line x1="581.7" y1="328.4" x2="581.7" y2="331.9" stroke="#3a3a3a" stroke-width="1" />
<text x="581.7" y="341.3" font-size="8.1" text-anchor="middle" font-weight="normal" fill="#222" >0.6</text>
<line x1="611" y1="328.4" x2="611" y2="331.9" stroke="#3a3a3a" stroke-width="1" />
<text x="611" y="341.3" font-size="8.1" text-anchor="middle" font-weight="normal" fill="#222" >0.8</text>
<line x1="640.3" y1="328.4" x2="640.3" y2="331.9" stroke="#3a3a3a" stroke-width="1" />
<text x="640.3" y="341.3" font-size="8.1" text-anchor="middle" font-weight="normal" fill="#222" >1.0</text>
<line x1="669.6" y1="328.4" x2="669.6" y2="331.9" stroke="#3a3a3a" stroke-width="1" />
<text x="669.6" y="341.3" font-size="8.1" text-anchor="middle" font-weight="normal" fill="#222" >1.2</text>
<text x="584.8" y="353.6" font-size="9.0" text-anchor="middle" font-weight="normal" fill="#222" >Voltage (V)</text>
<text transform="translate(469.4 264.6) rotate(-90)" font-size="9.0" text-anchor="middle" fill="#222">Current density (mA cm<tspan dy="-3" font-size="5.5">&#8722;2</tspan><tspan dy="3">)</tspan></text>
<text x="230" y="199.7" font-size="12" text-anchor="start" font-weight="bold" fill="#000" >e</text>
<text x="462.6" y="199.7" font-size="12" text-anchor="start" font-weight="bold" fill="#000" >f</text>
<text x="282.6" y="228.8" font-size="7.2" fill="#222">0.0982 cm<tspan dy="-3" font-size="5">2</tspan></text>
<line x1="283.1" y1="236.8" x2="298.3" y2="236.8" stroke="#17958f" stroke-width="0.9" />
<circle cx="290.7" cy="236.8" r="2.3" fill="url(#bt)"/>
<text x="302.8" y="239.4" font-size="7.2" text-anchor="start" font-weight="normal" fill="#222" >Without SHF</text>
<line x1="283.1" y1="245.2" x2="298.3" y2="245.2" stroke="#8a10f0" stroke-width="0.9" />
<circle cx="290.7" cy="245.2" r="2.3" fill="url(#bp)"/>
<text x="302.8" y="247.8" font-size="7.2" text-anchor="start" font-weight="normal" fill="#222" >With SHF</text>
<text x="513.1" y="228.8" font-size="7.2" fill="#222">1 cm<tspan dy="-3" font-size="5">2</tspan></text>
<line x1="511.8" y1="237.6" x2="527" y2="237.6" stroke="#7d12e8" stroke-width="0.9" />
<circle cx="519.4" cy="237.6" r="2.3" fill="url(#bp)"/>
<text x="530.8" y="240.2" font-size="7.2" text-anchor="start" font-weight="normal" fill="#222" >With SHF, reverse</text>
<line x1="511.8" y1="246.2" x2="527" y2="246.2" stroke="#8a20f0" stroke-width="0.9" />
<circle cx="519.4" cy="246.2" r="1.75" fill="#fff" stroke="#8a20f0" stroke-width="0.8"/>
<text x="530.8" y="248.8" font-size="7.2" text-anchor="start" font-weight="normal" fill="#222" >With SHF, forward</text>
<rect x="276.6" y="259.5" width="52.3" height="56.5" fill="#efefef"/>
<rect x="328.3" y="259.5" width="43.4" height="56.5" fill="#d4e6ea"/>
<rect x="371.1" y="259.5" width="44.2" height="56.5" fill="#e2d4f6"/>
<line x1="276.6" y1="259.5" x2="415.3" y2="259.5" stroke="#111" stroke-width="1.4" />
<line x1="276.6" y1="272.4" x2="415.3" y2="272.4" stroke="#555" stroke-width="0.8" />
<line x1="276.6" y1="316" x2="415.3" y2="316" stroke="#111" stroke-width="1.4" />
<text x="349.7" y="269" font-size="7.0" text-anchor="middle" font-weight="normal" fill="#222" >Without SHF</text>
<text x="393.4" y="269" font-size="7.0" text-anchor="middle" font-weight="normal" fill="#222" >With SHF</text>
<text x="281.6" y="279.7" font-size="7.0" text-anchor="start" font-weight="normal" fill="#222" ><tspan font-style="italic">V</tspan><tspan font-size="4.6" dy="2.2">OC</tspan><tspan dy="-2.2"> (V)</tspan></text>
<text x="281.6" y="289.8" font-size="7.0" text-anchor="start" font-weight="normal" fill="#222" ><tspan font-style="italic">J</tspan><tspan font-size="4.6" dy="2.2">sc</tspan><tspan dy="-2.2"> (mA cm</tspan><tspan font-size="4.6" dy="-3.2">&#8722;2</tspan><tspan dy="3.2">)</tspan></text>
<text x="281.6" y="301.6" font-size="7.0" text-anchor="start" font-weight="normal" fill="#222" >FF (%)</text>
<text x="281.6" y="311.6" font-size="7.0" text-anchor="start" font-weight="normal" fill="#222" >PCE (%)</text>
<text x="349.7" y="279.7" font-size="7.0" text-anchor="middle" font-weight="normal" fill="#222" letter-spacing="0.45">1.161</text>
<text x="349.7" y="290.8" font-size="7.0" text-anchor="middle" font-weight="normal" fill="#222" letter-spacing="0.45">26.03</text>
<text x="349.7" y="301.6" font-size="7.0" text-anchor="middle" font-weight="normal" fill="#222" letter-spacing="0.45">82.09</text>
<text x="349.7" y="312.4" font-size="7.0" text-anchor="middle" font-weight="normal" fill="#222" letter-spacing="0.45">24.81</text>
<text x="393.4" y="279.7" font-size="7.0" text-anchor="middle" font-weight="normal" fill="#222" letter-spacing="0.45">1.197</text>
<text x="393.4" y="290.8" font-size="7.0" text-anchor="middle" font-weight="normal" fill="#222" letter-spacing="0.45">26.18</text>
<text x="393.4" y="301.6" font-size="7.0" text-anchor="middle" font-weight="normal" fill="#222" letter-spacing="0.45">86.17</text>
<text x="393.4" y="312.4" font-size="7.0" text-anchor="middle" font-weight="normal" fill="#222" letter-spacing="0.45">27.02</text>
<rect x="505.6" y="258.8" width="53.1" height="56.9" fill="#efefef"/>
<rect x="558.1" y="258.8" width="42.9" height="56.9" fill="#ddcdf4"/>
<rect x="600.4" y="258.8" width="44.9" height="56.9" fill="#ddcdf4"/>
<line x1="505.6" y1="258.8" x2="645.3" y2="258.8" stroke="#111" stroke-width="1.4" />
<line x1="505.6" y1="269.2" x2="645.3" y2="269.2" stroke="#555" stroke-width="0.8" />
<line x1="505.6" y1="315.7" x2="645.3" y2="315.7" stroke="#111" stroke-width="1.4" />
<text x="531.6" y="266.2" font-size="7.0" text-anchor="middle" font-weight="normal" fill="#222" >With SHF</text>
<text x="581.6" y="266.2" font-size="7.0" text-anchor="middle" font-weight="normal" fill="#222" >Reverse</text>
<text x="625.6" y="266.2" font-size="7.0" text-anchor="middle" font-weight="normal" fill="#222" >Forward</text>
<text x="510.6" y="279.7" font-size="7.0" text-anchor="start" font-weight="normal" fill="#222" ><tspan font-style="italic">V</tspan><tspan font-size="4.6" dy="2.2">OC</tspan><tspan dy="-2.2"> (V)</tspan></text>
<text x="510.6" y="289.8" font-size="7.0" text-anchor="start" font-weight="normal" fill="#222" ><tspan font-style="italic">J</tspan><tspan font-size="4.6" dy="2.2">sc</tspan><tspan dy="-2.2"> (mA cm</tspan><tspan font-size="4.6" dy="-3.2">&#8722;2</tspan><tspan dy="3.2">)</tspan></text>
<text x="510.6" y="301.6" font-size="7.0" text-anchor="start" font-weight="normal" fill="#222" >FF (%)</text>
<text x="510.6" y="311.6" font-size="7.0" text-anchor="start" font-weight="normal" fill="#222" >PCE (%)</text>
<text x="581.6" y="277.3" font-size="7.0" text-anchor="middle" font-weight="normal" fill="#222" letter-spacing="0.45">1.194</text>
<text x="581.6" y="288.3" font-size="7.0" text-anchor="middle" font-weight="normal" fill="#222" letter-spacing="0.45">26.08</text>
<text x="581.6" y="299.2" font-size="7.0" text-anchor="middle" font-weight="normal" fill="#222" letter-spacing="0.45">83.34</text>
<text x="581.6" y="310.2" font-size="7.0" text-anchor="middle" font-weight="normal" fill="#222" letter-spacing="0.45">25.95</text>
<text x="625.4" y="277.3" font-size="7.0" text-anchor="middle" font-weight="normal" fill="#222" letter-spacing="0.45">1.193</text>
<text x="625.4" y="288.3" font-size="7.0" text-anchor="middle" font-weight="normal" fill="#222" letter-spacing="0.45">26.02</text>
<text x="625.4" y="299.2" font-size="7.0" text-anchor="middle" font-weight="normal" fill="#222" letter-spacing="0.45">82.45</text>
<text x="625.4" y="310.2" font-size="7.0" text-anchor="middle" font-weight="normal" fill="#222" letter-spacing="0.45">25.59</text>
</svg></body></html>
